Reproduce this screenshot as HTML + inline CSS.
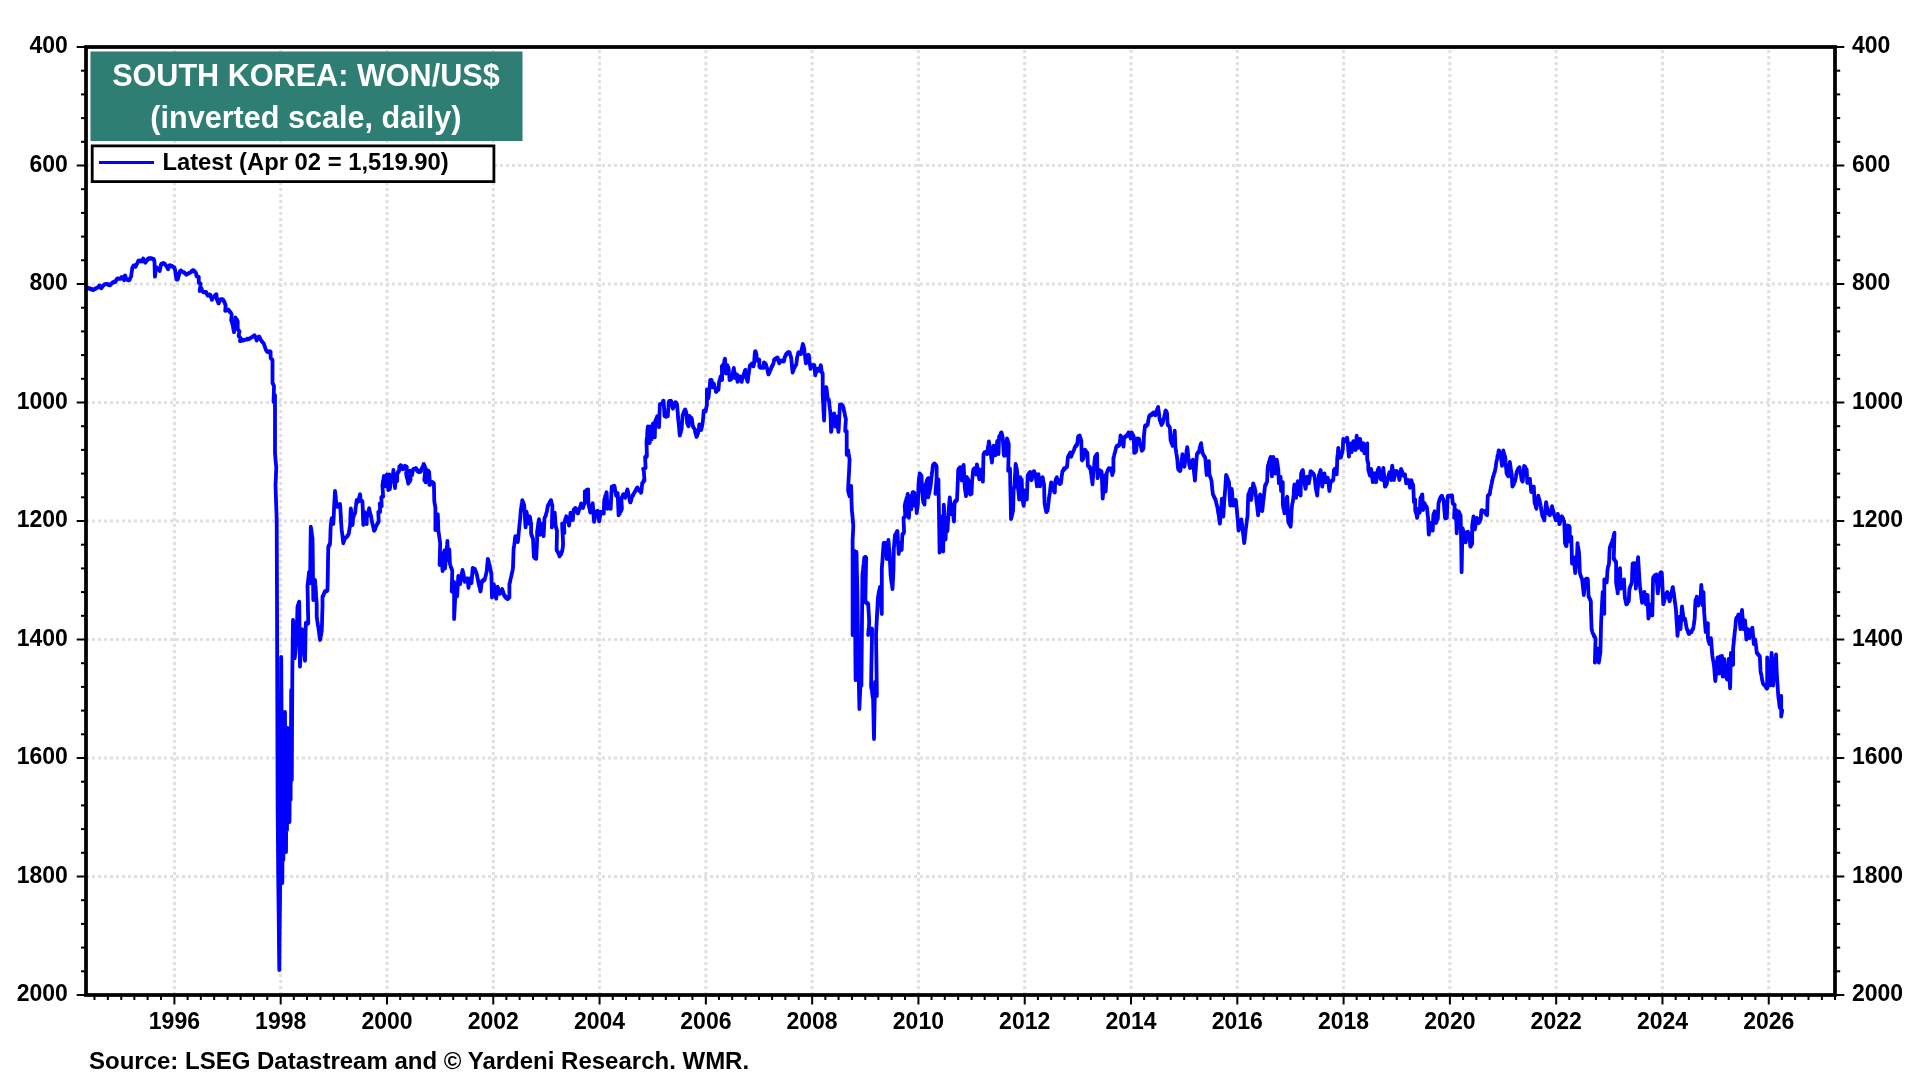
<!DOCTYPE html>
<html><head><meta charset="utf-8"><style>
html,body{margin:0;padding:0;background:#fff;width:1920px;height:1080px;overflow:hidden}
svg{display:block;will-change:transform}
text{font-family:"Liberation Sans",sans-serif;font-weight:bold}
</style></head><body>
<svg width="1920" height="1080" viewBox="0 0 1920 1080">
<g stroke="#e0e0e0" stroke-width="3" stroke-dasharray="3 3"><line x1="86" y1="165.50" x2="1833" y2="165.50"/><line x1="86" y1="284.00" x2="1833" y2="284.00"/><line x1="86" y1="402.50" x2="1833" y2="402.50"/><line x1="86" y1="521.00" x2="1833" y2="521.00"/><line x1="86" y1="639.50" x2="1833" y2="639.50"/><line x1="86" y1="758.00" x2="1833" y2="758.00"/><line x1="86" y1="876.50" x2="1833" y2="876.50"/><line x1="174.40" y1="50" x2="174.40" y2="993"/><line x1="280.69" y1="50" x2="280.69" y2="993"/><line x1="386.98" y1="50" x2="386.98" y2="993"/><line x1="493.27" y1="50" x2="493.27" y2="993"/><line x1="599.56" y1="50" x2="599.56" y2="993"/><line x1="705.85" y1="50" x2="705.85" y2="993"/><line x1="812.14" y1="50" x2="812.14" y2="993"/><line x1="918.43" y1="50" x2="918.43" y2="993"/><line x1="1024.72" y1="50" x2="1024.72" y2="993"/><line x1="1131.01" y1="50" x2="1131.01" y2="993"/><line x1="1237.30" y1="50" x2="1237.30" y2="993"/><line x1="1343.59" y1="50" x2="1343.59" y2="993"/><line x1="1449.88" y1="50" x2="1449.88" y2="993"/><line x1="1556.17" y1="50" x2="1556.17" y2="993"/><line x1="1662.46" y1="50" x2="1662.46" y2="993"/><line x1="1768.75" y1="50" x2="1768.75" y2="993"/></g>
<g stroke="#000" stroke-width="2"><line x1="76.7" y1="47.00" x2="86" y2="47.00"/><line x1="1835" y1="47.00" x2="1844.3" y2="47.00"/><line x1="81.0" y1="70.70" x2="86" y2="70.70"/><line x1="1835" y1="70.70" x2="1840.2" y2="70.70"/><line x1="81.0" y1="94.40" x2="86" y2="94.40"/><line x1="1835" y1="94.40" x2="1840.2" y2="94.40"/><line x1="81.0" y1="118.10" x2="86" y2="118.10"/><line x1="1835" y1="118.10" x2="1840.2" y2="118.10"/><line x1="81.0" y1="141.80" x2="86" y2="141.80"/><line x1="1835" y1="141.80" x2="1840.2" y2="141.80"/><line x1="76.7" y1="165.50" x2="86" y2="165.50"/><line x1="1835" y1="165.50" x2="1844.3" y2="165.50"/><line x1="81.0" y1="189.20" x2="86" y2="189.20"/><line x1="1835" y1="189.20" x2="1840.2" y2="189.20"/><line x1="81.0" y1="212.90" x2="86" y2="212.90"/><line x1="1835" y1="212.90" x2="1840.2" y2="212.90"/><line x1="81.0" y1="236.60" x2="86" y2="236.60"/><line x1="1835" y1="236.60" x2="1840.2" y2="236.60"/><line x1="81.0" y1="260.30" x2="86" y2="260.30"/><line x1="1835" y1="260.30" x2="1840.2" y2="260.30"/><line x1="76.7" y1="284.00" x2="86" y2="284.00"/><line x1="1835" y1="284.00" x2="1844.3" y2="284.00"/><line x1="81.0" y1="307.70" x2="86" y2="307.70"/><line x1="1835" y1="307.70" x2="1840.2" y2="307.70"/><line x1="81.0" y1="331.40" x2="86" y2="331.40"/><line x1="1835" y1="331.40" x2="1840.2" y2="331.40"/><line x1="81.0" y1="355.10" x2="86" y2="355.10"/><line x1="1835" y1="355.10" x2="1840.2" y2="355.10"/><line x1="81.0" y1="378.80" x2="86" y2="378.80"/><line x1="1835" y1="378.80" x2="1840.2" y2="378.80"/><line x1="76.7" y1="402.50" x2="86" y2="402.50"/><line x1="1835" y1="402.50" x2="1844.3" y2="402.50"/><line x1="81.0" y1="426.20" x2="86" y2="426.20"/><line x1="1835" y1="426.20" x2="1840.2" y2="426.20"/><line x1="81.0" y1="449.90" x2="86" y2="449.90"/><line x1="1835" y1="449.90" x2="1840.2" y2="449.90"/><line x1="81.0" y1="473.60" x2="86" y2="473.60"/><line x1="1835" y1="473.60" x2="1840.2" y2="473.60"/><line x1="81.0" y1="497.30" x2="86" y2="497.30"/><line x1="1835" y1="497.30" x2="1840.2" y2="497.30"/><line x1="76.7" y1="521.00" x2="86" y2="521.00"/><line x1="1835" y1="521.00" x2="1844.3" y2="521.00"/><line x1="81.0" y1="544.70" x2="86" y2="544.70"/><line x1="1835" y1="544.70" x2="1840.2" y2="544.70"/><line x1="81.0" y1="568.40" x2="86" y2="568.40"/><line x1="1835" y1="568.40" x2="1840.2" y2="568.40"/><line x1="81.0" y1="592.10" x2="86" y2="592.10"/><line x1="1835" y1="592.10" x2="1840.2" y2="592.10"/><line x1="81.0" y1="615.80" x2="86" y2="615.80"/><line x1="1835" y1="615.80" x2="1840.2" y2="615.80"/><line x1="76.7" y1="639.50" x2="86" y2="639.50"/><line x1="1835" y1="639.50" x2="1844.3" y2="639.50"/><line x1="81.0" y1="663.20" x2="86" y2="663.20"/><line x1="1835" y1="663.20" x2="1840.2" y2="663.20"/><line x1="81.0" y1="686.90" x2="86" y2="686.90"/><line x1="1835" y1="686.90" x2="1840.2" y2="686.90"/><line x1="81.0" y1="710.60" x2="86" y2="710.60"/><line x1="1835" y1="710.60" x2="1840.2" y2="710.60"/><line x1="81.0" y1="734.30" x2="86" y2="734.30"/><line x1="1835" y1="734.30" x2="1840.2" y2="734.30"/><line x1="76.7" y1="758.00" x2="86" y2="758.00"/><line x1="1835" y1="758.00" x2="1844.3" y2="758.00"/><line x1="81.0" y1="781.70" x2="86" y2="781.70"/><line x1="1835" y1="781.70" x2="1840.2" y2="781.70"/><line x1="81.0" y1="805.40" x2="86" y2="805.40"/><line x1="1835" y1="805.40" x2="1840.2" y2="805.40"/><line x1="81.0" y1="829.10" x2="86" y2="829.10"/><line x1="1835" y1="829.10" x2="1840.2" y2="829.10"/><line x1="81.0" y1="852.80" x2="86" y2="852.80"/><line x1="1835" y1="852.80" x2="1840.2" y2="852.80"/><line x1="76.7" y1="876.50" x2="86" y2="876.50"/><line x1="1835" y1="876.50" x2="1844.3" y2="876.50"/><line x1="81.0" y1="900.20" x2="86" y2="900.20"/><line x1="1835" y1="900.20" x2="1840.2" y2="900.20"/><line x1="81.0" y1="923.90" x2="86" y2="923.90"/><line x1="1835" y1="923.90" x2="1840.2" y2="923.90"/><line x1="81.0" y1="947.60" x2="86" y2="947.60"/><line x1="1835" y1="947.60" x2="1840.2" y2="947.60"/><line x1="81.0" y1="971.30" x2="86" y2="971.30"/><line x1="1835" y1="971.30" x2="1840.2" y2="971.30"/><line x1="76.7" y1="995.00" x2="86" y2="995.00"/><line x1="1835" y1="995.00" x2="1844.3" y2="995.00"/><line x1="94.46" y1="995" x2="94.46" y2="1000.0"/><line x1="107.86" y1="995" x2="107.86" y2="1000.0"/><line x1="121.25" y1="995" x2="121.25" y2="1000.0"/><line x1="134.36" y1="995" x2="134.36" y2="1000.0"/><line x1="147.61" y1="995" x2="147.61" y2="1000.0"/><line x1="161.00" y1="995" x2="161.00" y2="1000.0"/><line x1="174.40" y1="995" x2="174.40" y2="1004.5"/><line x1="187.61" y1="995" x2="187.61" y2="1000.0"/><line x1="200.83" y1="995" x2="200.83" y2="1000.0"/><line x1="214.19" y1="995" x2="214.19" y2="1000.0"/><line x1="227.55" y1="995" x2="227.55" y2="1000.0"/><line x1="240.65" y1="995" x2="240.65" y2="1000.0"/><line x1="253.90" y1="995" x2="253.90" y2="1000.0"/><line x1="267.29" y1="995" x2="267.29" y2="1000.0"/><line x1="280.69" y1="995" x2="280.69" y2="1004.5"/><line x1="293.79" y1="995" x2="293.79" y2="1000.0"/><line x1="307.04" y1="995" x2="307.04" y2="1000.0"/><line x1="320.44" y1="995" x2="320.44" y2="1000.0"/><line x1="333.84" y1="995" x2="333.84" y2="1000.0"/><line x1="346.94" y1="995" x2="346.94" y2="1000.0"/><line x1="360.19" y1="995" x2="360.19" y2="1000.0"/><line x1="373.58" y1="995" x2="373.58" y2="1000.0"/><line x1="386.98" y1="995" x2="386.98" y2="1004.5"/><line x1="400.19" y1="995" x2="400.19" y2="1000.0"/><line x1="413.41" y1="995" x2="413.41" y2="1000.0"/><line x1="426.77" y1="995" x2="426.77" y2="1000.0"/><line x1="440.12" y1="995" x2="440.12" y2="1000.0"/><line x1="453.23" y1="995" x2="453.23" y2="1000.0"/><line x1="466.48" y1="995" x2="466.48" y2="1000.0"/><line x1="479.87" y1="995" x2="479.87" y2="1000.0"/><line x1="493.27" y1="995" x2="493.27" y2="1004.5"/><line x1="506.37" y1="995" x2="506.37" y2="1000.0"/><line x1="519.62" y1="995" x2="519.62" y2="1000.0"/><line x1="533.02" y1="995" x2="533.02" y2="1000.0"/><line x1="546.42" y1="995" x2="546.42" y2="1000.0"/><line x1="559.52" y1="995" x2="559.52" y2="1000.0"/><line x1="572.77" y1="995" x2="572.77" y2="1000.0"/><line x1="586.16" y1="995" x2="586.16" y2="1000.0"/><line x1="599.56" y1="995" x2="599.56" y2="1004.5"/><line x1="612.77" y1="995" x2="612.77" y2="1000.0"/><line x1="625.99" y1="995" x2="625.99" y2="1000.0"/><line x1="639.35" y1="995" x2="639.35" y2="1000.0"/><line x1="652.71" y1="995" x2="652.71" y2="1000.0"/><line x1="665.81" y1="995" x2="665.81" y2="1000.0"/><line x1="679.06" y1="995" x2="679.06" y2="1000.0"/><line x1="692.45" y1="995" x2="692.45" y2="1000.0"/><line x1="705.85" y1="995" x2="705.85" y2="1004.5"/><line x1="718.95" y1="995" x2="718.95" y2="1000.0"/><line x1="732.20" y1="995" x2="732.20" y2="1000.0"/><line x1="745.60" y1="995" x2="745.60" y2="1000.0"/><line x1="759.00" y1="995" x2="759.00" y2="1000.0"/><line x1="772.10" y1="995" x2="772.10" y2="1000.0"/><line x1="785.35" y1="995" x2="785.35" y2="1000.0"/><line x1="798.74" y1="995" x2="798.74" y2="1000.0"/><line x1="812.14" y1="995" x2="812.14" y2="1004.5"/><line x1="825.35" y1="995" x2="825.35" y2="1000.0"/><line x1="838.57" y1="995" x2="838.57" y2="1000.0"/><line x1="851.93" y1="995" x2="851.93" y2="1000.0"/><line x1="865.28" y1="995" x2="865.28" y2="1000.0"/><line x1="878.39" y1="995" x2="878.39" y2="1000.0"/><line x1="891.64" y1="995" x2="891.64" y2="1000.0"/><line x1="905.03" y1="995" x2="905.03" y2="1000.0"/><line x1="918.43" y1="995" x2="918.43" y2="1004.5"/><line x1="931.53" y1="995" x2="931.53" y2="1000.0"/><line x1="944.78" y1="995" x2="944.78" y2="1000.0"/><line x1="958.18" y1="995" x2="958.18" y2="1000.0"/><line x1="971.58" y1="995" x2="971.58" y2="1000.0"/><line x1="984.68" y1="995" x2="984.68" y2="1000.0"/><line x1="997.93" y1="995" x2="997.93" y2="1000.0"/><line x1="1011.32" y1="995" x2="1011.32" y2="1000.0"/><line x1="1024.72" y1="995" x2="1024.72" y2="1004.5"/><line x1="1037.93" y1="995" x2="1037.93" y2="1000.0"/><line x1="1051.15" y1="995" x2="1051.15" y2="1000.0"/><line x1="1064.51" y1="995" x2="1064.51" y2="1000.0"/><line x1="1077.87" y1="995" x2="1077.87" y2="1000.0"/><line x1="1090.97" y1="995" x2="1090.97" y2="1000.0"/><line x1="1104.22" y1="995" x2="1104.22" y2="1000.0"/><line x1="1117.61" y1="995" x2="1117.61" y2="1000.0"/><line x1="1131.01" y1="995" x2="1131.01" y2="1004.5"/><line x1="1144.11" y1="995" x2="1144.11" y2="1000.0"/><line x1="1157.36" y1="995" x2="1157.36" y2="1000.0"/><line x1="1170.76" y1="995" x2="1170.76" y2="1000.0"/><line x1="1184.16" y1="995" x2="1184.16" y2="1000.0"/><line x1="1197.26" y1="995" x2="1197.26" y2="1000.0"/><line x1="1210.51" y1="995" x2="1210.51" y2="1000.0"/><line x1="1223.90" y1="995" x2="1223.90" y2="1000.0"/><line x1="1237.30" y1="995" x2="1237.30" y2="1004.5"/><line x1="1250.51" y1="995" x2="1250.51" y2="1000.0"/><line x1="1263.73" y1="995" x2="1263.73" y2="1000.0"/><line x1="1277.09" y1="995" x2="1277.09" y2="1000.0"/><line x1="1290.45" y1="995" x2="1290.45" y2="1000.0"/><line x1="1303.55" y1="995" x2="1303.55" y2="1000.0"/><line x1="1316.80" y1="995" x2="1316.80" y2="1000.0"/><line x1="1330.19" y1="995" x2="1330.19" y2="1000.0"/><line x1="1343.59" y1="995" x2="1343.59" y2="1004.5"/><line x1="1356.69" y1="995" x2="1356.69" y2="1000.0"/><line x1="1369.94" y1="995" x2="1369.94" y2="1000.0"/><line x1="1383.34" y1="995" x2="1383.34" y2="1000.0"/><line x1="1396.74" y1="995" x2="1396.74" y2="1000.0"/><line x1="1409.84" y1="995" x2="1409.84" y2="1000.0"/><line x1="1423.09" y1="995" x2="1423.09" y2="1000.0"/><line x1="1436.48" y1="995" x2="1436.48" y2="1000.0"/><line x1="1449.88" y1="995" x2="1449.88" y2="1004.5"/><line x1="1463.09" y1="995" x2="1463.09" y2="1000.0"/><line x1="1476.31" y1="995" x2="1476.31" y2="1000.0"/><line x1="1489.67" y1="995" x2="1489.67" y2="1000.0"/><line x1="1503.03" y1="995" x2="1503.03" y2="1000.0"/><line x1="1516.13" y1="995" x2="1516.13" y2="1000.0"/><line x1="1529.38" y1="995" x2="1529.38" y2="1000.0"/><line x1="1542.77" y1="995" x2="1542.77" y2="1000.0"/><line x1="1556.17" y1="995" x2="1556.17" y2="1004.5"/><line x1="1569.27" y1="995" x2="1569.27" y2="1000.0"/><line x1="1582.52" y1="995" x2="1582.52" y2="1000.0"/><line x1="1595.92" y1="995" x2="1595.92" y2="1000.0"/><line x1="1609.32" y1="995" x2="1609.32" y2="1000.0"/><line x1="1622.42" y1="995" x2="1622.42" y2="1000.0"/><line x1="1635.67" y1="995" x2="1635.67" y2="1000.0"/><line x1="1649.06" y1="995" x2="1649.06" y2="1000.0"/><line x1="1662.46" y1="995" x2="1662.46" y2="1004.5"/><line x1="1675.67" y1="995" x2="1675.67" y2="1000.0"/><line x1="1688.89" y1="995" x2="1688.89" y2="1000.0"/><line x1="1702.25" y1="995" x2="1702.25" y2="1000.0"/><line x1="1715.61" y1="995" x2="1715.61" y2="1000.0"/><line x1="1728.71" y1="995" x2="1728.71" y2="1000.0"/><line x1="1741.96" y1="995" x2="1741.96" y2="1000.0"/><line x1="1755.35" y1="995" x2="1755.35" y2="1000.0"/><line x1="1768.75" y1="995" x2="1768.75" y2="1004.5"/><line x1="1781.85" y1="995" x2="1781.85" y2="1000.0"/><line x1="1795.10" y1="995" x2="1795.10" y2="1000.0"/><line x1="1808.50" y1="995" x2="1808.50" y2="1000.0"/><line x1="1821.90" y1="995" x2="1821.90" y2="1000.0"/><line x1="1835.00" y1="995" x2="1835.00" y2="1000.0"/></g>
<polyline fill="none" stroke="#0000ff" stroke-width="3.8" stroke-linejoin="round" stroke-linecap="round" points="87.8,288.0 88.1,287.8 88.4,288.0 88.7,288.6 89.0,288.6 89.3,288.4 89.6,288.4 89.9,288.8 90.2,288.5 90.5,289.1 90.9,289.4 91.2,288.8 91.5,289.6 91.8,289.5 92.1,289.0 92.4,289.4 92.7,290.0 93.0,289.9 93.3,289.6 93.6,289.9 93.9,289.4 94.2,289.1 94.5,289.0 94.8,289.0 95.1,289.0 95.3,288.6 95.6,289.0 95.9,288.2 96.2,288.0 96.5,287.8 96.8,288.0 97.1,288.1 97.4,287.5 97.7,287.6 98.0,287.1 98.2,286.9 98.5,286.7 98.8,286.0 99.1,286.1 99.4,285.4 99.7,285.6 100.0,286.2 100.3,286.8 100.5,286.9 100.8,287.9 101.1,287.6 101.4,288.3 101.7,287.7 102.0,287.4 102.3,286.6 102.6,286.8 102.8,286.1 103.1,285.5 103.4,285.6 103.7,284.8 104.0,284.7 104.3,284.6 104.6,284.2 104.9,284.2 105.2,284.4 105.5,284.4 105.7,284.1 106.0,284.1 106.3,284.0 106.6,283.9 106.9,284.0 107.2,284.0 107.5,284.2 107.8,284.1 108.1,284.8 108.4,284.3 108.6,285.1 108.9,284.6 109.2,285.3 109.5,285.4 109.8,285.4 110.1,285.4 110.4,284.6 110.7,284.1 111.0,284.4 111.2,284.0 111.5,283.8 111.8,283.1 112.1,282.8 112.4,282.8 112.7,282.3 113.0,282.9 113.3,282.4 113.6,282.4 113.9,282.0 114.1,281.8 114.4,281.5 114.7,281.6 115.0,282.1 115.3,282.1 115.6,281.5 115.9,280.9 116.2,280.3 116.4,280.5 116.7,279.1 117.0,279.0 117.3,278.6 117.6,278.4 117.9,278.9 118.2,278.4 118.5,278.8 118.8,278.6 119.0,278.8 119.3,278.6 119.6,278.6 119.9,278.7 120.2,278.9 120.5,278.6 120.8,278.7 121.2,278.4 121.5,277.2 121.8,277.7 122.1,277.0 122.4,277.7 122.7,278.3 123.0,278.0 123.2,278.7 123.5,279.2 123.8,279.6 124.1,280.2 124.4,278.1 124.7,276.9 125.0,275.3 125.3,275.6 125.6,276.7 125.8,277.4 126.1,278.4 126.4,279.3 126.7,279.5 127.0,279.4 127.3,279.8 127.6,279.6 127.9,280.1 128.1,280.1 128.4,280.4 128.7,280.4 129.0,279.7 129.3,280.2 129.6,279.9 129.9,279.0 130.2,278.1 130.6,277.2 130.9,277.2 131.2,276.3 131.5,273.1 131.9,271.2 132.2,267.9 132.5,267.7 132.8,266.8 133.2,266.0 133.5,265.9 133.8,265.3 134.1,265.2 134.4,265.4 134.8,265.7 135.1,266.6 135.4,266.9 135.7,266.6 136.0,266.2 136.3,265.5 136.6,264.7 136.9,263.7 137.1,263.7 137.4,263.0 137.7,262.2 138.0,261.8 138.3,260.7 138.6,260.8 138.9,261.1 139.2,261.0 139.5,260.5 139.8,260.8 140.1,260.6 140.4,261.5 140.7,260.7 141.0,261.2 141.3,260.9 141.6,260.9 141.9,261.0 142.2,261.4 142.5,260.4 142.9,259.3 143.2,258.5 143.5,259.1 143.8,259.4 144.1,259.9 144.3,260.8 144.6,260.7 144.9,261.9 145.2,262.6 145.5,262.7 145.8,262.1 146.1,261.4 146.4,261.2 146.8,261.0 147.1,260.2 147.4,259.9 147.7,258.8 148.0,258.8 148.3,258.5 148.6,259.2 148.9,258.3 149.2,258.4 149.5,258.2 149.8,258.8 150.1,258.8 150.4,258.4 150.7,258.1 151.0,258.5 151.3,258.5 151.6,258.5 151.9,258.6 152.2,258.5 152.5,259.2 152.7,259.2 153.0,259.1 153.3,259.1 153.6,258.9 153.9,259.4 154.2,260.7 154.5,262.0 154.9,276.6 155.2,274.7 155.5,272.2 155.8,269.9 156.1,267.2 156.4,267.2 156.7,267.5 157.0,267.7 157.2,268.2 157.5,267.7 157.8,268.3 158.1,268.7 158.4,268.5 158.7,268.9 159.1,270.1 159.4,270.6 159.7,271.1 160.0,269.5 160.3,268.1 160.7,266.3 161.0,264.3 161.3,263.9 161.6,263.8 161.9,264.4 162.2,263.8 162.5,264.0 162.8,263.7 163.1,263.6 163.4,263.1 163.7,263.8 164.0,263.2 164.3,263.3 164.6,263.3 164.9,264.2 165.2,264.7 165.6,264.9 165.9,265.2 166.2,265.9 166.5,266.0 166.8,266.7 167.1,267.5 167.5,267.8 167.8,268.9 168.1,269.2 168.4,267.9 168.8,267.9 169.1,266.5 169.4,265.6 169.7,265.2 170.0,266.0 170.3,265.4 170.6,265.4 170.8,265.5 171.1,265.7 171.4,265.8 171.7,265.8 172.0,265.9 172.3,266.2 172.6,266.6 172.9,267.0 173.2,266.8 173.4,267.4 173.7,267.7 174.0,267.2 174.3,267.2 174.6,267.9 174.9,269.8 175.2,271.0 175.5,272.5 175.7,275.0 176.0,276.4 176.3,278.3 176.6,279.5 176.9,279.0 177.2,278.8 177.6,279.5 177.9,278.9 178.2,277.9 178.5,276.0 178.9,275.4 179.2,273.3 179.5,272.3 179.8,271.1 180.1,271.4 180.4,271.2 180.8,270.5 181.1,270.5 181.4,270.9 181.7,271.1 182.0,271.6 182.3,271.6 182.6,271.7 182.9,272.3 183.2,271.9 183.5,272.2 183.9,272.4 184.2,272.8 184.5,272.6 184.8,273.2 185.1,273.3 185.4,273.5 185.7,273.7 186.0,274.5 186.3,274.4 186.6,274.7 186.9,274.1 187.2,274.2 187.5,273.7 187.8,274.1 188.1,273.3 188.4,273.3 188.7,273.1 189.0,272.9 189.3,273.3 189.6,272.9 189.9,272.5 190.2,272.7 190.5,272.4 190.8,272.2 191.1,272.2 191.4,271.3 191.7,271.4 192.0,270.8 192.3,271.4 192.6,270.9 192.9,270.1 193.2,270.2 193.5,270.2 193.8,270.7 194.1,270.7 194.4,271.3 194.8,272.0 195.1,271.7 195.4,272.7 195.7,272.6 196.0,273.0 196.2,274.3 196.5,276.2 196.8,276.5 197.1,276.0 197.4,276.5 197.7,276.2 197.9,277.0 198.2,276.7 198.5,277.3 198.8,277.1 198.8,282.7 199.1,282.5 199.4,283.3 199.7,283.0 200.0,283.2 200.3,283.6 200.6,283.6 200.3,286.2 200.0,288.3 199.7,291.0 200.0,290.0 200.3,289.5 200.5,288.6 200.8,288.0 201.1,287.8 201.4,288.2 201.7,289.0 202.1,290.4 202.4,290.6 202.7,291.5 203.0,292.0 203.3,292.2 203.6,291.7 203.9,291.8 204.2,292.4 204.5,292.2 204.7,292.0 205.0,292.0 205.3,292.2 205.6,291.9 205.9,291.9 206.2,292.0 206.5,292.8 206.8,293.4 207.0,294.3 207.3,294.5 207.6,295.6 207.9,295.2 208.2,295.7 208.5,295.4 208.8,295.6 209.2,295.0 209.5,295.2 209.8,294.5 210.1,294.6 210.4,294.7 210.7,295.9 211.0,296.4 211.2,297.8 211.5,298.5 211.8,299.8 212.1,299.7 212.4,298.7 212.7,298.2 212.9,298.1 213.2,297.5 213.5,297.6 213.8,297.1 214.1,296.6 214.4,296.7 214.7,295.8 215.0,296.1 215.2,295.2 215.5,295.5 215.8,294.5 216.1,295.0 216.4,294.3 216.7,297.0 216.9,299.8 217.2,300.3 217.5,300.7 217.8,301.8 218.1,302.1 218.4,303.3 218.7,303.5 219.0,302.6 219.3,301.9 219.5,301.3 219.8,300.4 220.1,299.4 220.4,299.6 220.7,299.6 221.0,299.3 221.3,299.3 221.7,299.3 222.0,299.7 222.3,299.0 222.6,299.7 222.9,299.4 223.2,299.8 223.5,300.9 223.8,301.5 224.1,302.0 224.4,301.7 224.7,302.6 225.0,304.0 225.3,304.0 225.6,305.4 225.2,310.9 225.5,310.7 225.8,310.4 226.1,310.5 226.4,310.3 226.8,310.5 227.1,309.7 227.4,310.1 227.7,309.6 228.0,309.5 228.3,310.2 228.6,309.8 228.9,310.5 229.2,310.7 229.5,311.3 229.8,312.2 230.1,312.1 230.4,312.0 230.7,312.8 231.0,313.1 231.4,314.0 231.7,314.6 231.4,317.8 231.2,320.2 231.5,321.3 231.8,321.6 232.0,322.5 232.3,323.8 232.6,324.8 232.9,326.1 233.2,328.0 233.4,329.1 233.7,330.5 234.0,332.2 234.3,329.4 234.6,326.8 234.8,323.0 235.1,320.0 235.4,317.4 235.7,317.8 236.0,319.1 236.3,319.3 236.6,319.8 236.9,319.5 237.1,320.4 237.4,321.1 237.7,321.1 237.7,329.4 238.0,329.6 238.3,329.7 238.6,330.8 238.9,330.6 239.2,330.9 239.5,331.3 239.2,332.9 238.9,333.9 238.6,335.9 238.9,336.5 239.2,336.7 239.6,336.7 239.9,337.3 240.2,337.7 240.5,337.8 240.2,339.3 240.0,341.0 240.3,340.6 240.6,340.9 240.9,341.0 241.2,340.8 241.5,340.4 241.8,340.7 242.1,340.4 242.4,340.4 242.7,339.8 242.9,340.5 243.2,340.6 243.5,339.9 243.8,339.9 244.1,340.0 244.4,339.8 244.7,339.7 245.0,340.0 245.3,339.8 245.6,339.6 245.9,339.7 246.2,339.6 246.5,339.3 246.8,339.1 247.1,339.6 247.4,338.7 247.8,339.3 248.1,339.3 248.4,338.6 248.7,338.9 249.0,339.3 249.3,338.7 249.6,338.6 249.9,338.3 250.2,338.1 250.5,338.2 250.8,337.9 251.1,337.4 251.4,337.7 251.7,337.3 252.1,336.9 252.4,337.0 252.7,337.0 253.0,336.1 253.3,336.1 253.6,336.1 253.9,335.8 254.2,335.9 254.5,335.2 254.8,335.5 255.1,336.6 255.4,337.1 255.8,337.7 256.1,338.5 256.4,340.0 256.7,340.6 257.0,340.0 257.3,339.4 257.6,338.6 257.9,338.8 258.1,337.7 258.4,337.2 258.7,336.7 259.0,336.4 259.3,336.7 259.6,337.1 259.9,338.3 260.1,338.2 260.4,338.7 260.7,339.8 261.0,340.0 261.3,340.6 261.6,341.4 261.9,341.5 262.2,341.5 262.5,342.1 262.9,342.8 263.2,342.9 263.5,343.5 263.8,343.5 264.1,344.3 264.4,345.7 264.7,346.3 264.9,346.8 265.2,347.6 265.5,348.9 265.8,349.5 266.1,350.3 266.3,350.1 266.6,350.8 266.9,351.7 267.2,351.8 267.5,351.9 267.8,352.1 268.1,352.0 268.4,351.8 268.8,352.2 269.1,351.5 269.4,351.4 269.7,351.5 270.0,351.8 270.3,351.3 270.6,351.7 270.6,358.1 270.9,358.3 271.2,358.4 271.6,359.4 271.9,359.7 272.2,359.4 272.5,360.0 272.5,383.0 272.8,383.7 273.1,383.9 273.4,384.9 273.7,385.3 274.0,386.0 273.8,393.8 273.5,402.0 273.8,400.2 274.1,399.1 274.4,398.2 274.7,396.0 275.0,395.0 275.0,453.0 275.3,456.7 275.6,460.6 276.0,464.6 276.3,468.0 276.0,473.6 275.8,479.8 275.5,485.0 275.8,493.5 276.1,502.6 276.4,511.3 276.7,520.0 277.0,600.0 277.3,700.0 277.6,800.0 278.0,850.0 278.2,874.8 278.5,900.0 278.8,923.4 279.0,946.2 279.3,970.0 279.6,934.5 280.0,900.0 280.2,875.1 280.5,850.0 281.0,760.0 281.2,657.0 281.8,750.0 282.3,883.0 282.8,800.0 283.1,830.1 283.3,860.0 283.8,770.0 284.1,809.6 284.3,850.0 285.0,712.0 285.2,750.8 285.5,790.0 285.8,820.9 286.0,852.0 286.5,770.0 286.8,800.0 287.0,830.0 287.5,728.0 288.0,812.0 288.4,800.8 288.7,790.0 289.0,800.9 289.2,811.5 289.5,822.0 290.0,740.0 290.3,769.8 290.6,800.0 291.2,690.0 291.8,780.0 292.3,676.0 292.6,648.5 293.0,620.0 293.3,621.1 293.6,622.6 293.9,624.2 294.1,625.3 294.4,627.1 294.7,629.0 295.0,630.0 294.7,658.3 295.0,655.5 295.3,653.0 295.6,649.9 295.8,646.5 296.1,644.2 296.4,641.2 296.7,638.3 297.0,627.5 297.2,617.5 297.5,606.7 297.8,606.3 298.1,604.7 298.4,604.2 298.6,603.7 298.9,602.2 299.2,601.7 299.5,623.8 299.7,645.3 300.0,666.7 300.3,661.1 300.6,656.4 300.9,650.2 301.1,645.1 301.4,639.5 301.7,634.5 302.0,629.2 302.3,631.5 302.6,633.3 303.0,636.2 303.3,638.3 303.6,641.7 303.9,645.5 304.1,649.1 304.4,653.2 304.7,656.3 305.0,660.8 305.3,647.6 305.5,635.4 305.8,623.3 306.1,622.6 306.4,623.0 306.7,623.1 307.1,623.8 307.4,622.7 307.7,624.0 308.0,623.7 308.3,623.3 308.0,611.0 307.8,597.9 307.5,585.0 307.8,583.4 308.1,580.7 308.4,577.8 308.6,576.9 308.9,573.4 309.2,571.7 309.5,575.7 309.7,579.8 310.0,583.3 310.3,564.3 310.5,545.5 310.8,526.7 311.1,528.6 311.4,530.5 311.6,531.7 311.9,535.1 312.2,536.5 312.5,538.3 312.8,559.1 313.0,580.2 313.3,600.0 313.6,596.4 313.9,593.7 314.1,589.5 314.4,586.8 314.7,583.7 315.0,580.0 315.3,584.4 315.6,587.2 315.9,592.2 316.1,596.2 316.4,600.0 316.7,603.3 316.7,616.7 317.0,618.2 317.3,621.0 317.6,622.5 317.9,625.3 318.3,626.8 318.6,629.5 318.9,631.0 319.2,633.3 319.5,636.2 319.7,637.6 320.0,640.0 320.3,639.4 320.6,636.7 320.9,635.5 321.1,634.9 321.4,632.3 321.7,631.7 322.0,623.4 322.2,615.3 322.5,606.7 322.5,596.7 322.8,595.8 323.1,596.2 323.4,595.5 323.8,594.4 324.1,593.3 324.4,592.3 324.7,591.6 325.0,591.7 325.3,591.9 325.6,590.9 325.9,590.7 326.2,590.9 326.6,591.1 326.9,591.2 327.2,590.9 327.5,590.0 327.8,575.8 328.0,560.9 328.3,546.7 328.6,546.5 328.9,545.3 329.1,546.1 329.4,544.5 329.7,544.9 330.0,544.2 330.3,538.1 330.5,530.9 330.8,525.0 331.1,523.3 331.4,519.8 331.7,518.3 332.0,518.8 332.3,520.2 332.7,521.5 333.0,523.6 333.3,524.0 333.6,518.8 333.9,512.6 334.1,507.1 334.4,501.8 334.7,496.7 335.0,491.0 335.3,493.5 335.6,495.7 335.9,499.4 336.1,501.6 336.4,504.2 336.7,506.7 337.0,506.0 337.3,506.9 337.6,506.4 337.9,506.2 338.2,505.9 338.5,504.8 338.8,505.2 339.1,504.3 339.4,504.5 339.7,504.9 340.0,504.0 340.3,507.6 340.6,513.1 340.9,517.8 341.1,521.8 341.4,525.9 341.7,530.0 342.0,532.3 342.3,534.6 342.7,537.8 343.0,540.9 343.3,543.3 343.6,542.3 343.9,541.4 344.1,540.3 344.4,539.2 344.7,539.4 345.0,538.3 345.3,538.1 345.6,538.0 345.9,537.2 346.2,537.7 346.5,536.8 346.8,536.6 347.1,536.7 347.4,535.6 347.7,536.0 348.0,534.9 348.3,535.0 348.6,533.8 348.9,533.0 349.1,530.8 349.4,529.8 349.7,527.4 350.0,526.7 350.3,520.6 350.5,514.0 350.8,508.3 351.1,510.6 351.4,513.9 351.6,516.9 351.9,518.8 352.2,522.3 352.5,525.0 352.8,522.9 353.0,519.0 353.3,516.7 353.6,516.8 353.9,515.5 354.1,514.2 354.4,514.2 354.7,514.0 355.0,513.3 355.3,511.8 355.6,508.2 355.9,506.0 356.1,504.2 356.4,502.1 356.7,500.0 357.0,499.8 357.3,499.9 357.7,501.3 358.0,501.3 358.3,501.7 358.6,501.1 358.9,498.5 359.1,497.9 359.4,496.5 359.7,496.2 360.0,494.2 360.3,495.9 360.5,499.2 360.8,500.8 361.1,500.4 361.4,500.5 361.6,501.4 361.9,500.7 362.2,501.3 362.5,501.7 362.8,509.8 363.0,517.5 363.3,525.0 363.6,519.8 363.9,516.4 364.2,511.7 364.5,513.3 364.8,514.2 365.1,515.8 365.4,517.4 365.8,519.9 366.1,520.6 366.4,522.2 366.7,524.2 366.7,518.3 367.0,516.8 367.3,516.3 367.6,514.6 367.9,513.4 368.3,511.8 368.6,510.8 368.9,509.4 369.2,508.3 369.5,510.4 369.8,511.4 370.1,512.8 370.4,514.4 370.8,514.8 371.1,516.6 371.4,518.4 371.7,520.0 372.0,521.7 372.3,523.4 372.6,524.1 372.9,526.0 373.3,526.7 373.6,528.8 373.9,530.2 374.2,530.8 374.5,530.0 374.8,529.7 375.1,529.3 375.4,527.8 375.8,527.5 376.1,525.7 376.4,525.9 376.7,525.0 377.0,524.9 377.3,523.5 377.6,523.4 377.8,522.7 378.1,522.9 378.4,522.2 378.7,521.0 378.3,512.0 378.6,512.6 378.9,512.3 379.2,511.1 379.6,512.1 379.9,512.3 380.2,511.5 379.8,503.3 380.1,503.9 380.4,503.7 380.8,504.6 381.1,505.3 381.4,505.7 381.7,506.3 381.3,497.4 381.6,498.1 381.9,496.4 382.2,496.5 382.5,496.6 382.8,496.4 383.1,496.7 382.8,491.0 382.4,485.6 382.7,483.4 383.0,481.1 383.3,480.4 383.6,478.3 383.9,475.9 384.2,477.2 384.5,480.3 384.8,481.8 385.1,484.0 385.4,486.3 385.7,484.6 386.0,480.9 386.3,478.9 386.6,477.2 386.9,474.4 387.2,477.3 387.5,480.7 387.7,483.0 388.0,486.6 388.3,490.0 388.6,485.3 388.9,482.2 389.1,477.8 389.4,474.4 389.8,489.3 390.1,486.9 390.4,484.7 390.6,482.5 390.9,481.1 391.2,481.0 391.5,480.2 391.9,480.0 392.2,479.6 392.5,478.9 392.8,478.1 393.1,473.9 393.4,470.0 393.7,474.0 394.0,477.4 394.4,481.1 394.7,485.1 395.0,488.1 395.4,482.7 395.7,478.1 396.0,479.3 396.3,478.5 396.6,480.6 396.9,480.1 397.2,481.1 397.2,473.7 397.5,473.4 397.8,473.4 398.1,471.5 398.5,471.6 398.8,471.7 399.1,470.7 399.4,466.3 399.7,466.3 400.0,466.4 400.4,466.2 400.7,465.1 401.0,466.3 401.3,465.6 401.6,466.2 401.9,467.6 402.2,467.6 402.5,468.5 402.8,469.3 403.1,468.6 403.4,467.9 403.7,467.8 404.0,466.8 404.3,466.6 404.6,466.3 404.9,465.8 405.2,467.2 405.5,467.1 405.8,467.4 406.0,466.6 406.3,466.4 406.6,467.6 406.9,467.0 406.6,469.1 406.4,471.7 406.1,473.7 406.4,475.1 406.7,477.0 407.0,478.1 407.4,479.1 407.7,480.3 408.0,482.2 408.3,483.7 408.6,482.8 408.9,482.5 409.2,482.0 409.5,481.0 409.7,481.8 410.0,481.1 410.3,480.3 410.6,479.6 410.3,476.7 410.1,473.5 409.8,470.7 410.1,471.0 410.4,472.1 410.7,472.3 411.1,473.5 411.4,474.5 411.7,474.9 412.0,475.2 412.3,474.1 412.5,472.1 412.8,470.0 413.1,469.4 413.4,469.0 413.7,469.4 414.0,468.8 414.2,468.6 414.5,468.8 414.8,468.7 415.1,469.6 415.4,468.1 415.7,468.5 416.0,468.1 416.3,469.8 416.6,469.0 416.9,469.8 417.1,470.4 417.4,471.2 417.7,471.1 418.0,471.5 418.3,471.9 418.6,470.9 418.9,472.1 419.2,471.6 419.4,470.5 419.7,472.0 420.0,471.8 420.3,470.7 420.6,471.9 420.9,471.1 421.2,471.0 421.5,469.5 421.8,468.5 422.1,467.6 422.4,467.0 422.7,466.7 422.9,466.1 423.2,465.3 423.5,464.1 423.8,464.0 424.1,465.0 424.4,465.7 424.8,466.4 425.1,467.3 425.4,467.8 425.1,471.7 424.9,473.9 424.6,476.8 424.3,480.4 424.6,480.6 424.9,481.0 425.2,480.7 425.5,481.3 425.8,482.4 426.1,481.9 426.4,478.4 426.6,473.6 426.9,470.0 427.2,470.9 427.5,470.6 427.8,471.6 428.2,470.5 428.5,471.7 428.8,471.2 429.1,472.2 429.5,477.1 429.8,481.1 429.4,484.8 429.7,484.1 430.0,484.9 430.3,484.5 430.6,483.9 430.8,483.7 431.1,482.8 431.4,483.1 431.7,483.5 432.0,482.6 432.3,482.0 432.6,483.5 432.9,483.4 433.3,482.4 433.6,483.1 433.9,483.3 434.3,501.1 434.6,503.2 434.9,504.4 435.1,506.4 435.4,507.2 435.4,530.1 435.7,528.9 436.0,525.5 436.3,523.8 436.6,522.7 436.9,520.4 437.2,519.0 437.5,516.2 437.8,514.4 438.1,522.8 438.4,531.3 438.7,532.8 439.0,534.8 439.3,536.8 439.6,539.2 439.9,541.4 440.2,543.3 439.9,553.4 439.6,565.0 439.9,562.8 440.2,560.9 440.5,558.4 440.8,557.4 441.1,554.6 441.4,553.0 441.7,557.7 442.0,561.3 442.3,567.2 442.6,571.0 442.9,568.1 443.2,564.5 443.5,560.4 443.8,557.3 444.1,553.2 444.4,550.5 444.7,559.3 445.0,568.6 445.3,565.5 445.6,562.1 445.9,558.1 446.2,555.5 446.5,551.4 446.8,548.0 447.1,545.0 447.4,540.9 447.7,550.1 448.0,560.2 448.3,557.5 448.6,555.0 449.0,551.4 449.3,549.3 449.6,556.2 449.9,563.8 450.2,564.8 450.5,565.5 450.8,567.1 451.1,567.3 451.4,568.4 451.7,568.6 452.0,570.1 452.3,571.0 452.0,581.9 451.7,591.5 452.0,591.1 452.3,589.2 452.6,588.4 452.9,586.2 453.2,584.7 453.5,584.8 453.8,583.0 454.1,581.8 454.1,619.1 454.4,613.0 454.7,607.5 455.0,601.6 455.3,596.3 455.6,596.5 455.9,597.0 456.2,596.5 456.5,596.4 456.8,595.8 457.1,596.3 457.4,591.7 457.7,586.6 458.0,581.5 458.3,575.8 458.6,576.4 458.9,578.6 459.2,579.9 459.5,581.4 459.8,583.1 460.1,584.2 460.4,582.4 460.7,581.0 461.0,578.0 461.3,576.5 461.6,574.8 461.9,573.2 462.2,572.2 462.5,569.8 462.8,571.8 463.1,572.3 463.4,573.8 463.7,575.6 464.0,577.3 464.3,579.4 464.6,580.4 464.9,581.8 465.2,580.8 465.5,581.0 465.8,580.9 466.1,579.9 466.4,579.1 466.7,578.8 467.0,578.6 467.3,578.2 467.6,581.3 467.9,582.4 468.2,584.7 468.5,587.8 468.8,585.4 469.1,584.6 469.4,583.7 469.7,581.8 470.0,579.5 470.3,578.2 470.6,579.6 470.9,581.0 471.2,582.4 471.5,583.0 471.8,579.6 472.1,575.6 472.4,571.6 472.7,568.0 473.0,568.7 473.3,568.6 473.6,569.3 473.9,569.3 474.2,568.7 474.5,568.7 474.8,568.8 475.1,569.8 475.4,570.4 475.7,572.1 476.0,571.9 476.3,572.2 476.6,574.4 476.9,574.6 477.2,576.3 477.5,578.0 477.8,578.8 478.1,581.0 478.4,582.3 478.7,584.2 479.0,584.7 479.3,586.6 479.6,587.1 479.9,588.4 480.2,590.4 480.5,591.5 480.8,589.7 481.1,587.3 481.4,584.2 481.7,581.8 482.0,581.0 482.3,581.4 482.6,581.8 482.9,580.1 483.2,581.1 483.6,579.8 483.9,579.4 484.2,579.9 484.5,580.2 484.8,579.4 485.1,577.8 485.4,576.7 485.7,575.4 486.0,574.6 486.3,572.8 486.6,572.2 486.9,569.3 487.2,565.2 487.5,562.6 487.8,559.0 488.1,559.4 488.4,560.8 488.7,561.5 489.0,563.4 489.3,564.6 489.6,565.0 489.9,566.6 490.2,569.0 490.5,569.3 490.8,570.7 491.1,572.5 491.4,574.6 491.7,586.4 492.0,597.5 492.3,596.0 492.6,593.1 492.9,591.3 493.2,589.0 493.5,585.8 493.8,584.2 494.1,585.8 494.4,587.9 494.7,589.8 495.0,591.2 495.3,592.9 495.6,594.9 495.9,597.3 496.2,598.7 496.5,595.7 496.8,593.2 497.1,589.1 497.4,586.6 497.7,587.3 498.0,587.7 498.3,589.4 498.6,590.2 498.9,590.8 499.2,592.1 499.5,593.3 499.8,593.9 500.1,592.5 500.4,592.8 500.7,592.8 501.0,591.2 501.3,591.5 501.6,590.0 501.9,590.0 502.2,589.0 502.5,590.2 502.8,591.3 503.1,591.5 503.4,592.6 503.7,594.1 504.0,595.1 504.3,596.0 504.6,596.1 504.9,595.5 505.2,597.1 505.5,597.4 505.8,597.8 506.1,596.8 506.4,597.3 506.7,597.8 507.0,598.7 507.3,598.8 507.6,599.1 507.9,598.6 508.2,597.4 508.5,598.6 508.8,597.5 509.1,597.6 509.4,597.5 509.4,584.2 509.7,583.1 510.0,582.4 510.3,580.1 510.6,579.0 510.9,577.6 511.2,577.0 511.5,575.4 511.8,573.2 512.1,572.8 512.4,571.1 512.7,569.4 513.0,567.4 513.3,558.4 513.6,549.3 513.9,546.8 514.2,545.6 514.5,543.3 514.8,540.7 515.1,537.8 515.4,536.1 515.7,536.6 516.0,537.1 516.3,538.3 516.6,539.3 516.9,540.5 517.2,540.4 517.5,540.9 517.8,542.1 518.1,539.2 518.4,536.3 518.7,532.8 519.0,530.1 519.3,526.6 519.6,523.4 520.0,520.3 520.3,517.0 520.6,513.0 520.9,509.6 521.2,508.1 521.5,505.3 521.7,504.0 522.0,502.6 522.3,500.1 522.6,501.5 522.9,501.7 523.2,502.0 523.6,503.4 523.9,504.9 524.2,505.2 524.5,510.4 524.8,513.5 525.0,518.8 525.3,523.4 525.6,527.4 525.9,522.6 526.2,517.6 526.5,511.7 526.8,513.3 527.1,515.4 527.4,517.7 527.7,520.3 528.0,521.4 528.3,523.7 528.6,522.7 528.9,520.9 529.1,519.6 529.4,518.5 529.7,516.3 530.0,517.8 530.3,519.0 530.5,521.4 530.8,522.2 531.1,523.7 531.1,533.9 531.4,534.0 531.7,536.0 532.0,535.6 532.4,537.0 532.7,538.2 533.0,538.5 533.3,545.2 533.6,551.0 533.9,557.0 534.2,557.4 534.5,557.4 534.8,558.2 535.0,557.7 535.3,557.7 535.6,557.8 535.9,558.0 536.2,558.9 536.5,552.4 536.8,547.2 537.1,540.4 537.1,532.0 537.4,529.9 537.7,528.2 538.0,525.9 538.4,522.6 538.7,521.7 539.0,519.1 539.3,523.9 539.6,530.1 539.9,534.8 540.2,532.5 540.5,531.9 540.8,529.9 541.2,527.9 541.5,524.8 541.8,523.7 542.1,525.7 542.4,527.5 542.7,530.5 543.0,531.5 543.3,533.5 543.6,536.2 543.9,530.4 544.2,524.6 544.5,518.1 544.8,517.6 545.1,516.9 545.4,516.4 545.7,515.7 546.0,514.5 546.3,513.0 546.6,512.4 546.9,511.7 547.2,509.6 547.5,507.4 547.8,506.1 548.1,505.0 548.4,505.5 548.7,504.3 549.0,503.8 549.3,504.1 549.5,503.2 549.8,501.6 550.1,502.3 550.4,501.3 550.7,501.1 551.0,500.1 551.3,501.4 551.6,502.9 551.8,503.9 552.1,504.3 552.4,506.1 552.1,516.5 551.9,527.4 552.2,525.9 552.5,523.8 552.8,523.0 553.1,521.3 553.5,519.9 553.8,516.9 554.1,516.2 554.4,514.0 554.7,512.6 555.0,516.2 555.3,521.1 555.6,525.6 555.9,527.0 556.2,527.3 556.4,529.3 556.7,529.3 557.0,531.1 556.6,549.6 556.9,550.8 557.2,550.9 557.5,551.6 557.8,552.3 558.1,552.2 558.3,553.0 558.6,553.9 558.9,554.1 559.2,554.6 559.5,556.3 559.8,556.1 560.1,555.2 560.4,554.4 560.7,554.2 561.0,554.4 561.2,553.4 561.5,553.3 561.8,551.4 562.1,551.5 562.4,549.6 562.8,547.2 563.1,544.1 562.8,536.7 562.4,530.9 562.1,523.7 562.4,525.6 562.7,525.5 563.0,527.2 563.2,528.3 563.5,528.9 563.8,530.1 564.1,531.7 564.4,533.0 564.0,523.7 564.3,522.8 564.6,522.0 564.9,521.3 565.1,520.2 565.4,519.0 565.7,518.2 566.0,517.5 566.3,516.3 566.6,517.7 566.9,518.6 567.2,519.6 567.5,520.1 567.9,521.2 568.2,522.8 568.5,522.8 568.8,524.3 569.1,525.6 569.4,522.4 569.7,520.6 569.9,518.6 570.2,515.9 570.5,512.6 570.8,513.6 571.1,514.2 571.4,516.1 571.6,516.5 571.9,517.7 572.2,517.4 572.5,519.2 572.8,520.0 573.1,516.4 573.4,513.2 573.7,509.8 574.0,509.3 574.3,509.7 574.7,508.7 575.0,508.2 575.3,508.3 575.6,508.0 575.9,509.4 576.2,508.8 576.5,509.5 576.8,510.1 577.0,510.9 577.3,512.7 577.6,513.2 577.9,513.5 578.2,513.1 578.5,511.6 578.8,510.9 579.0,510.0 579.3,509.5 579.6,508.0 579.9,507.8 580.2,507.0 580.5,505.9 580.8,505.2 581.1,503.3 581.4,503.9 581.7,504.2 582.0,506.4 582.4,505.9 582.7,507.9 583.0,508.0 583.3,507.0 583.6,505.8 583.9,504.8 584.2,504.3 584.5,503.4 584.8,502.4 584.8,491.3 585.1,491.2 585.4,491.7 585.7,491.1 586.0,490.7 586.3,491.0 586.6,491.0 586.9,489.6 587.2,490.6 587.5,490.4 587.8,489.7 588.1,489.4 588.5,504.3 588.8,505.6 589.1,507.4 589.5,508.6 589.8,509.9 590.1,511.9 590.4,512.6 590.7,512.2 591.0,510.1 591.3,509.5 591.5,507.3 591.8,507.6 592.1,505.6 592.4,504.2 592.7,503.3 593.0,506.9 593.3,510.8 593.5,514.5 593.8,518.6 594.1,521.9 594.4,519.3 594.7,518.9 594.9,516.9 595.2,514.3 595.5,512.6 595.8,512.6 596.1,512.4 596.4,512.3 596.6,511.1 596.9,511.1 597.2,511.4 597.5,511.5 597.8,510.7 598.1,512.3 598.4,514.6 598.6,517.4 598.9,519.8 599.2,521.4 599.5,519.7 599.8,517.6 600.1,515.9 600.4,514.6 600.7,513.7 601.0,511.7 601.3,511.8 601.6,512.8 601.9,512.8 602.2,513.1 602.6,512.8 602.9,513.3 603.2,513.1 603.5,513.1 603.8,513.5 604.0,506.6 604.3,499.6 604.6,498.9 604.9,498.5 605.2,496.1 605.5,495.7 605.7,495.1 606.0,494.7 606.3,493.0 606.6,492.2 606.9,497.2 607.2,503.3 607.5,508.9 607.8,507.4 608.1,506.9 608.4,507.2 608.6,505.5 608.9,504.7 609.2,503.6 609.5,503.0 609.8,502.4 610.1,504.1 610.4,506.9 610.7,508.9 611.0,501.4 611.4,493.6 611.7,486.7 612.0,487.3 612.3,486.6 612.6,486.9 612.9,486.9 613.2,486.2 613.5,486.3 613.8,485.8 614.1,485.6 614.4,485.7 614.7,487.2 615.0,489.2 615.3,491.6 615.7,493.0 616.0,494.8 616.3,495.9 616.6,495.1 616.9,495.5 617.1,494.0 617.4,493.8 617.7,493.1 618.0,501.2 618.3,508.4 618.6,515.4 618.9,514.2 619.2,513.6 619.5,513.5 619.8,513.6 620.1,511.8 620.4,511.2 620.7,511.7 621.0,511.1 621.3,510.1 621.6,509.5 621.9,508.9 621.6,503.3 621.4,498.7 621.7,497.5 622.0,497.7 622.3,496.5 622.6,495.8 622.9,495.6 623.2,494.1 623.5,494.7 623.8,495.8 624.2,496.2 624.5,496.2 624.8,496.7 625.1,497.8 625.4,496.5 625.7,495.1 626.0,494.4 626.2,493.2 626.5,493.1 626.8,491.0 627.1,490.5 627.4,489.4 627.7,490.5 628.0,491.8 628.3,493.9 628.6,495.0 629.0,496.6 629.3,497.4 629.6,500.3 629.9,500.5 630.2,502.4 630.5,502.4 630.8,500.5 631.1,500.8 631.4,498.9 631.6,498.3 631.9,497.5 632.2,496.5 632.5,495.9 632.8,494.9 633.1,495.5 633.4,494.1 633.6,493.9 633.9,493.4 634.2,493.4 634.5,492.1 634.8,492.2 635.1,491.1 635.4,491.3 635.7,491.1 636.0,489.6 636.2,489.0 636.5,489.2 636.8,488.5 637.1,487.6 637.4,487.4 637.7,489.0 638.0,489.2 638.2,489.1 638.5,489.8 638.8,489.5 639.1,489.3 639.4,490.4 639.7,490.3 640.0,491.5 640.3,490.7 640.7,491.4 641.0,492.7 641.3,492.2 641.6,489.4 641.9,486.4 642.2,483.0 642.5,483.4 642.8,483.0 643.1,482.1 643.4,482.3 643.6,480.6 643.9,480.1 644.2,480.9 644.5,480.2 644.2,476.6 644.0,473.7 643.7,470.0 643.5,470.2 643.2,468.9 643.5,469.1 643.8,468.9 644.1,468.5 644.4,468.4 644.7,467.9 645.0,468.4 645.3,467.9 645.6,468.0 645.4,463.1 645.1,456.9 645.4,456.9 645.7,457.0 646.0,456.0 646.3,456.1 646.6,456.9 646.9,455.9 646.5,442.0 646.8,438.7 647.1,436.4 647.3,432.2 647.6,428.9 647.9,426.3 648.2,428.6 648.5,431.4 648.8,433.9 649.1,436.7 649.4,440.5 649.7,443.0 650.0,435.0 650.2,426.3 650.5,428.9 650.8,432.0 651.0,434.3 651.3,437.1 651.6,439.3 651.9,436.2 652.2,433.7 652.4,429.9 652.7,427.2 653.0,423.5 653.3,426.5 653.6,428.3 653.9,430.0 654.2,433.0 654.5,434.7 654.8,437.4 655.0,429.8 655.3,420.7 655.6,420.1 655.9,419.5 656.2,419.6 656.5,417.8 656.7,418.1 657.0,416.8 657.3,416.1 657.6,416.1 657.9,417.7 658.2,420.2 658.4,422.7 658.7,424.6 659.0,427.2 659.3,420.3 659.6,411.1 659.9,404.1 660.2,404.0 660.5,404.3 660.8,404.0 661.2,404.0 661.5,404.0 661.8,404.1 662.1,403.1 662.4,403.7 662.7,402.9 663.0,401.3 663.3,400.6 663.6,400.8 663.9,405.5 664.2,410.4 664.5,416.1 664.8,415.4 665.1,415.8 665.4,415.8 665.7,416.5 666.0,416.8 666.3,416.1 666.6,415.9 666.9,415.8 667.2,416.1 667.5,415.8 667.8,416.1 668.1,410.7 668.4,407.4 668.7,402.2 669.0,401.6 669.3,401.1 669.6,402.0 669.9,401.0 670.1,401.2 670.4,400.9 670.7,401.0 671.0,400.8 671.3,401.9 671.6,403.8 672.0,404.9 672.3,405.4 672.6,407.7 672.9,408.7 673.2,407.8 673.5,406.9 673.8,406.7 674.0,405.8 674.3,404.2 674.6,404.4 674.9,403.7 675.2,402.2 675.5,402.1 675.8,403.6 676.1,403.5 676.4,402.7 676.7,404.3 677.0,404.1 677.3,407.6 677.7,412.2 678.0,417.0 678.3,420.4 678.6,422.6 678.9,425.9 679.2,428.8 679.5,432.5 679.8,435.6 680.1,433.9 680.4,433.7 680.8,432.3 681.1,430.2 681.4,430.0 681.7,428.1 682.0,423.2 682.3,419.8 682.6,415.2 682.9,414.5 683.2,414.6 683.5,412.8 683.8,412.6 684.0,411.2 684.3,411.3 684.6,410.6 684.9,409.6 685.2,409.4 685.5,410.5 685.7,410.8 686.0,412.0 686.3,412.4 686.6,415.6 686.9,419.7 687.2,423.5 687.5,423.4 687.8,425.3 688.0,424.7 688.3,425.6 688.6,426.3 688.9,421.9 689.1,416.1 689.4,415.9 689.7,417.3 690.0,417.2 690.3,417.1 690.7,418.4 691.0,418.4 691.3,417.8 691.6,419.4 691.9,418.9 692.2,421.6 692.5,423.8 692.8,426.3 693.1,426.0 693.4,427.7 693.7,427.9 694.0,428.5 694.3,428.5 694.6,429.1 694.9,429.8 695.2,432.5 695.5,433.4 695.9,434.1 696.2,435.8 696.5,436.9 696.8,436.2 697.1,435.9 697.4,434.8 697.7,434.0 698.0,433.2 698.3,431.9 698.6,429.1 699.0,427.3 699.3,424.4 699.6,425.0 699.9,425.5 700.2,426.7 700.5,428.4 700.8,429.6 701.1,430.0 701.4,429.2 701.7,427.6 702.0,426.4 702.2,425.1 702.5,423.3 702.8,421.7 703.1,418.3 703.4,414.7 703.7,410.6 704.0,411.3 704.3,410.9 704.7,411.1 705.0,411.1 705.3,410.8 705.6,411.5 705.9,410.1 706.2,407.8 706.6,406.4 706.9,405.0 706.9,389.3 707.2,390.7 707.5,393.1 707.7,394.8 708.0,397.1 708.3,398.5 708.6,396.6 708.9,394.0 709.1,391.9 709.4,389.3 709.7,387.4 710.0,383.1 710.2,380.0 710.5,379.8 710.8,379.8 711.0,380.0 711.3,380.7 711.6,380.0 711.9,382.0 712.2,382.4 712.4,383.9 712.7,385.3 713.0,387.4 713.3,386.4 713.6,384.9 713.9,383.7 714.2,385.0 714.5,386.3 714.8,387.0 715.0,388.3 715.3,388.1 715.6,389.4 715.9,391.7 716.2,392.0 716.5,391.6 716.8,391.2 717.1,390.4 717.4,390.0 717.6,390.2 717.9,389.4 718.2,390.1 718.5,389.3 718.8,385.8 719.0,382.8 719.3,381.2 719.6,380.0 719.9,379.1 720.2,379.1 720.5,376.8 720.8,376.3 721.1,377.3 721.4,378.1 721.6,378.1 721.9,379.2 722.2,380.0 721.8,366.1 722.1,366.3 722.4,365.7 722.7,365.9 723.0,365.7 723.3,364.1 723.6,364.3 723.9,363.4 724.2,362.7 724.4,360.4 724.7,359.3 725.0,358.7 725.3,364.0 725.6,369.0 725.9,373.5 726.2,371.1 726.5,370.6 726.7,368.6 727.0,366.5 727.3,365.2 727.6,365.7 727.9,367.1 728.1,368.0 728.4,367.4 728.7,368.9 729.0,373.0 729.3,375.9 729.6,380.0 729.9,379.6 730.2,379.2 730.5,379.4 730.8,379.5 731.0,379.5 731.3,379.2 731.6,377.7 731.9,378.1 732.2,376.5 732.5,375.2 732.8,373.6 733.2,370.7 733.5,370.0 733.8,368.0 734.1,369.9 734.4,371.3 734.6,374.8 734.9,376.2 735.2,378.1 735.5,377.4 735.8,376.6 736.1,375.8 736.4,375.2 736.7,374.9 737.0,374.4 737.2,377.6 737.5,381.9 737.8,380.4 738.1,381.3 738.4,380.3 738.6,379.6 738.9,378.9 739.2,378.1 739.5,377.7 739.8,376.3 740.1,377.6 740.4,377.5 740.8,378.9 741.1,380.4 741.4,381.1 741.7,381.9 742.0,379.6 742.3,379.1 742.6,377.2 742.9,376.4 743.2,376.3 743.5,374.7 743.8,374.2 744.2,372.9 744.5,372.5 744.8,370.8 745.1,370.0 745.4,369.8 745.8,376.3 746.1,377.6 746.4,377.7 746.8,378.6 747.1,380.3 747.4,380.7 747.7,381.9 748.0,378.9 748.3,376.3 748.6,374.4 748.9,372.2 749.2,370.2 749.4,368.1 749.7,367.8 750.0,365.2 750.3,365.2 750.6,365.4 750.9,365.2 751.1,364.5 751.4,364.8 751.7,363.8 752.0,363.4 752.3,363.3 752.6,363.7 752.9,364.6 753.1,364.7 753.4,366.3 753.7,366.1 754.0,363.8 754.3,360.3 754.5,357.0 754.8,353.8 755.1,351.3 755.4,351.2 755.7,351.7 755.9,352.6 756.2,354.1 756.5,354.1 756.5,360.6 756.8,359.7 757.1,360.4 757.4,360.0 757.7,359.9 758.1,359.3 758.4,359.8 758.7,359.6 759.0,360.5 759.3,359.6 759.3,366.6 759.6,366.5 759.9,367.5 760.2,367.0 760.5,366.5 760.8,367.9 761.1,367.0 761.3,367.3 761.6,367.7 761.9,367.1 762.2,367.6 762.5,367.3 762.8,367.4 763.1,367.7 763.4,368.0 763.6,365.4 763.9,362.4 764.2,362.5 764.5,363.0 764.8,362.9 765.0,364.4 765.3,363.9 765.6,364.5 765.9,364.2 766.2,365.2 766.5,366.4 766.8,368.3 767.1,368.0 767.4,369.4 767.6,371.1 767.9,371.9 768.2,373.7 768.5,374.4 768.8,374.2 769.1,373.3 769.5,371.3 769.8,372.0 770.1,370.0 770.4,369.8 770.7,369.3 771.0,369.2 771.3,367.6 771.6,366.6 771.9,366.1 772.2,366.6 772.5,365.0 772.8,365.2 773.1,364.3 773.4,363.5 773.8,362.0 774.1,359.6 774.4,360.0 774.7,359.1 775.0,358.7 775.3,358.7 775.6,358.4 776.0,359.5 776.3,357.8 776.6,359.0 776.9,358.6 777.2,358.2 777.5,357.5 777.8,357.8 778.1,359.6 778.4,360.5 778.6,360.5 778.9,362.1 779.2,363.3 779.5,362.0 779.8,362.3 780.0,362.0 780.3,360.8 780.6,360.6 780.9,361.4 781.2,360.9 781.5,361.4 781.8,361.2 782.1,360.6 782.3,360.5 782.6,361.4 782.9,361.0 783.2,360.6 783.5,360.7 783.8,361.5 784.1,360.7 784.4,359.8 784.6,357.4 784.9,357.2 785.2,355.9 785.5,356.1 785.8,355.3 786.1,353.9 786.4,354.8 786.8,353.4 787.1,354.2 787.4,352.8 787.7,353.1 788.0,352.2 788.3,352.2 788.6,351.9 788.8,353.0 789.1,352.8 789.4,352.2 789.7,352.5 790.0,354.2 790.3,355.0 790.6,355.6 790.9,357.1 791.2,357.8 791.5,361.2 791.8,364.0 792.0,366.5 792.3,369.8 792.6,372.6 792.9,371.4 793.2,371.3 793.5,370.5 793.8,368.9 794.1,368.5 794.4,368.0 794.7,366.9 795.0,366.2 795.3,366.2 795.7,365.3 796.0,365.0 796.3,364.3 796.6,362.1 796.9,359.2 797.2,356.9 797.5,356.0 797.8,355.2 798.0,353.8 798.3,352.7 798.6,352.2 798.9,352.7 799.2,352.4 799.5,353.4 799.8,353.0 800.0,353.4 800.3,353.1 800.6,353.5 800.9,354.1 801.2,352.9 801.5,350.3 801.8,349.0 802.2,346.9 802.5,346.0 802.8,343.9 803.1,344.8 803.4,345.4 803.6,347.0 803.9,348.2 804.2,348.5 804.6,353.1 804.9,355.4 805.2,356.4 805.4,359.6 805.7,361.6 806.0,363.3 806.3,362.4 806.6,360.2 806.8,360.2 807.1,357.8 807.4,356.9 807.7,355.9 808.0,355.5 808.2,355.4 808.5,354.7 808.8,355.0 809.1,356.8 809.4,360.2 809.7,362.4 810.0,364.9 810.3,366.7 810.6,368.9 810.9,367.5 811.2,367.0 811.5,366.7 811.9,366.1 812.2,365.5 812.5,365.2 812.8,365.6 813.1,365.3 813.5,365.1 813.8,364.8 814.1,365.4 814.4,365.2 814.7,369.1 815.0,372.7 815.3,375.4 815.6,373.4 815.9,373.1 816.1,371.2 816.4,370.9 816.7,368.9 817.0,369.4 817.3,369.7 817.6,368.8 817.9,370.2 818.2,369.5 818.5,370.6 818.8,370.8 819.1,370.6 819.4,370.7 819.7,370.3 820.0,368.0 820.2,367.4 820.5,366.1 820.8,365.2 821.1,367.0 821.5,369.9 821.8,372.6 822.1,373.5 822.4,372.9 822.7,373.5 822.7,394.8 823.0,400.1 823.3,405.7 823.5,410.8 823.8,415.2 824.1,420.7 824.4,410.5 824.7,399.2 825.0,389.3 825.3,388.2 825.6,389.0 825.8,388.2 826.1,387.1 826.4,387.4 826.7,389.9 827.0,392.4 827.2,394.3 827.5,397.1 827.8,398.5 828.1,398.8 828.3,399.8 828.6,399.2 828.9,400.0 829.2,403.0 829.5,405.9 829.8,408.3 830.1,410.2 830.4,413.3 830.8,421.9 831.1,431.9 831.4,430.8 831.7,427.4 832.0,426.1 832.3,425.0 832.6,423.2 832.9,420.5 833.2,418.5 833.5,417.1 833.8,415.0 834.1,413.3 834.4,416.0 834.7,418.5 835.0,421.1 835.3,423.5 835.6,426.7 836.0,421.1 836.3,416.3 836.6,418.7 836.9,421.2 837.2,423.5 837.6,424.7 837.9,428.0 838.2,430.2 838.5,431.9 838.8,427.0 839.1,420.8 839.4,415.0 839.7,409.6 840.0,404.4 840.3,404.7 840.6,404.7 840.9,405.4 841.2,404.4 841.5,404.4 841.8,405.4 842.1,405.8 842.4,406.2 842.7,405.7 843.0,405.9 843.3,407.0 843.6,408.0 843.9,410.4 844.2,412.0 844.5,412.0 844.7,414.1 845.0,415.5 845.3,416.9 845.6,417.9 845.9,419.3 845.5,425.0 845.2,431.1 845.5,431.2 845.8,430.5 846.1,431.1 846.4,431.2 846.7,431.1 846.7,454.8 847.0,454.0 847.3,452.8 847.5,452.3 847.8,450.6 848.1,450.4 848.4,452.2 848.7,454.1 849.0,455.3 849.3,458.0 849.6,459.3 849.3,466.3 849.0,472.5 848.7,477.7 848.4,483.4 848.1,490.4 848.4,492.2 848.7,492.8 849.0,494.5 849.3,495.0 849.6,496.3 849.9,494.1 850.2,491.5 850.5,489.6 850.8,488.6 851.1,485.9 851.4,494.6 851.6,503.0 851.9,511.1 852.2,513.3 852.5,516.5 852.7,519.2 853.0,522.5 853.3,525.9 853.0,532.8 852.6,540.0 852.6,635.0 854.5,551.0 855.6,680.0 856.5,552.0 856.8,568.5 857.2,583.6 857.5,600.0 857.8,622.1 858.2,644.9 858.5,668.0 858.8,681.2 859.1,694.8 859.4,709.0 859.7,700.1 860.1,693.0 860.4,684.0 860.7,684.0 861.1,685.1 861.4,686.0 862.4,575.0 862.7,572.3 863.0,569.9 863.3,566.3 863.7,563.5 864.0,560.7 864.3,557.5 864.6,557.4 864.9,557.9 865.2,557.0 865.6,557.0 865.9,557.8 866.2,557.5 865.9,571.9 865.6,586.9 865.3,602.0 865.6,601.7 865.9,602.6 866.2,601.9 866.5,602.5 866.8,603.5 867.0,603.7 867.3,602.9 867.6,603.2 867.9,603.4 868.2,604.0 868.5,609.5 868.9,615.8 869.2,622.0 868.9,626.4 868.5,630.5 868.2,635.0 868.5,633.8 868.8,633.1 869.1,633.6 869.4,632.2 869.7,631.4 869.9,631.2 870.2,630.9 870.5,631.0 870.8,629.2 871.1,629.0 871.4,628.8 871.8,628.4 872.1,629.0 871.8,647.3 871.4,666.3 871.1,686.0 871.4,688.6 871.7,689.0 872.0,691.1 872.2,693.2 872.5,695.9 872.8,697.8 873.1,699.0 873.4,712.2 873.7,726.1 874.0,739.0 874.3,720.3 874.7,701.5 875.0,682.0 875.3,683.6 875.6,686.6 876.0,689.6 876.3,690.8 876.6,693.1 876.9,696.0 876.6,675.4 876.3,654.5 876.0,635.0 876.3,629.2 876.6,623.4 877.0,615.7 877.3,609.7 877.6,604.0 877.9,598.0 878.2,596.1 878.5,594.2 878.8,592.7 879.0,591.5 879.3,589.9 879.6,589.2 879.9,587.0 880.2,591.4 880.5,596.7 880.8,600.6 881.2,604.3 881.5,608.7 881.8,614.0 881.8,569.0 882.1,564.8 882.4,561.6 882.6,557.7 882.9,553.4 883.2,550.0 883.6,543.0 883.9,542.8 884.2,543.6 884.5,543.5 884.8,542.9 885.1,542.9 885.4,544.0 885.7,544.7 886.0,544.0 886.4,551.9 886.7,559.0 887.0,556.2 887.3,552.3 887.5,550.1 887.8,546.1 888.1,543.0 888.4,540.0 888.7,542.8 889.0,546.9 889.3,550.0 889.6,554.0 889.9,560.6 890.3,567.8 890.6,575.0 890.9,577.4 891.2,580.2 891.5,582.4 891.9,583.9 892.2,587.1 892.5,589.0 892.8,582.8 893.2,576.0 893.5,569.0 893.8,549.0 894.1,545.5 894.4,541.3 894.7,538.5 895.0,535.0 895.3,535.1 895.6,533.9 895.9,533.4 896.2,533.4 896.5,532.6 896.8,531.6 897.1,531.7 897.4,531.0 897.7,536.6 898.0,543.0 898.4,548.5 898.7,554.0 899.0,552.0 899.3,548.7 899.6,545.9 899.9,543.0 900.2,544.0 900.5,545.2 900.8,546.1 901.1,548.3 901.4,548.2 901.7,550.0 902.0,542.8 902.3,535.0 902.6,533.9 902.9,533.7 903.2,533.3 903.5,533.7 903.8,532.6 904.1,532.0 903.8,525.7 903.5,518.0 903.8,518.2 904.1,517.1 904.4,517.4 904.7,516.5 905.0,516.4 905.3,516.6 905.0,510.7 904.7,505.8 905.0,504.4 905.3,502.9 905.6,501.4 905.9,500.7 906.2,499.7 906.5,498.4 906.8,497.6 907.1,497.0 907.4,495.6 907.7,493.8 908.0,500.2 908.3,505.3 908.6,512.4 908.9,517.8 909.2,512.1 909.5,507.5 909.8,502.4 910.1,496.2 910.4,500.2 910.7,502.1 911.0,506.5 911.3,509.4 911.6,504.8 911.9,501.1 912.2,497.2 912.5,492.6 912.8,492.2 913.1,492.0 913.4,493.0 913.7,493.1 914.0,492.5 914.3,492.6 914.6,499.3 914.9,505.8 915.2,503.4 915.5,501.8 915.8,499.3 916.1,497.4 916.4,504.4 916.7,513.0 917.0,510.8 917.3,508.4 917.6,506.0 917.9,504.6 918.2,494.8 918.5,484.2 918.8,481.0 919.1,478.2 919.4,475.9 919.7,473.3 920.0,473.9 920.3,474.5 920.6,474.6 920.9,475.2 921.2,475.3 921.5,475.7 921.8,483.6 922.1,491.4 922.4,493.8 922.7,497.5 923.0,500.2 923.3,502.2 923.6,503.1 923.9,503.3 924.2,503.6 924.5,504.6 924.8,495.6 925.1,486.6 925.4,485.1 925.7,484.2 926.0,484.2 926.3,482.5 926.6,482.0 926.9,480.5 927.2,479.9 927.5,479.1 927.8,478.6 928.1,479.4 928.4,479.2 928.7,478.1 928.4,488.1 928.1,497.4 928.4,496.3 928.7,494.5 929.0,493.8 929.3,492.8 929.6,490.7 929.9,489.8 930.2,487.5 930.5,486.6 930.8,484.6 931.1,480.8 931.4,477.8 931.7,475.7 932.0,472.7 932.4,470.7 932.7,467.1 933.0,464.9 933.3,465.2 933.6,464.3 933.9,465.1 934.2,463.3 934.5,463.3 934.8,463.7 935.1,464.6 935.4,464.6 935.7,465.5 936.0,465.0 936.3,466.2 936.6,466.1 936.6,478.1 936.3,482.1 936.0,486.6 935.7,489.5 935.4,493.8 935.7,492.1 936.0,491.7 936.3,490.2 936.6,488.3 936.9,487.3 937.2,484.8 937.5,484.0 937.8,482.3 938.1,480.3 938.4,479.3 938.7,497.0 939.0,514.2 939.3,533.3 939.6,552.7 939.9,546.2 940.2,541.4 940.5,534.8 940.8,528.0 941.1,522.6 941.4,516.6 941.7,522.2 942.0,528.7 942.3,534.8 942.6,539.9 942.9,545.2 943.2,551.5 943.5,527.3 943.8,504.6 944.1,510.3 944.4,516.0 944.7,521.3 945.0,527.5 945.3,533.0 945.6,539.5 945.9,528.4 946.2,517.8 946.5,521.5 946.8,524.9 947.1,528.6 947.4,531.1 947.7,526.5 948.0,521.5 948.3,516.6 948.6,511.8 948.9,508.1 949.2,504.2 949.5,500.9 949.8,497.4 950.1,501.1 950.4,505.1 950.7,510.8 951.0,514.2 951.3,512.0 951.6,509.1 951.9,506.7 952.2,504.6 952.5,506.6 952.8,510.5 953.1,512.6 953.4,516.5 953.7,519.4 954.0,521.5 954.3,511.5 954.6,502.2 954.9,501.4 955.2,502.0 955.5,501.7 955.8,501.6 956.1,500.0 956.4,500.4 956.7,500.7 957.0,499.8 957.3,493.2 957.6,486.6 957.9,478.8 958.2,469.7 958.5,469.5 958.8,468.7 959.1,469.0 959.4,468.2 959.7,467.6 960.0,467.3 960.3,468.2 960.6,467.3 960.9,470.5 961.2,474.5 961.5,477.8 961.8,480.5 962.1,477.2 962.4,475.6 962.7,473.5 963.0,469.8 963.3,466.9 963.6,464.9 963.9,470.4 964.2,476.4 964.5,481.4 964.8,487.8 965.1,489.7 965.4,491.9 965.7,493.8 966.0,496.2 966.3,487.1 966.6,476.9 966.9,477.3 967.2,478.5 967.5,479.2 967.8,478.7 968.1,479.1 968.4,480.5 968.7,484.4 969.0,487.9 969.4,490.2 969.7,493.8 970.0,493.8 970.3,494.5 970.6,493.9 970.9,493.4 971.2,493.3 971.5,493.8 971.8,487.4 972.1,480.5 972.4,478.2 972.7,475.2 973.0,472.0 973.3,469.7 973.6,469.1 973.9,469.0 974.2,469.5 974.5,468.2 974.8,468.7 975.1,468.5 975.4,470.7 975.7,470.8 976.0,473.1 976.3,474.5 976.6,469.2 976.9,464.3 977.2,466.4 977.5,467.4 977.8,467.8 978.1,469.7 978.4,472.2 978.7,473.7 979.0,477.5 979.3,479.3 979.6,478.3 979.9,475.4 980.2,475.0 980.5,472.9 980.8,470.8 981.1,469.7 981.4,471.7 981.7,474.0 982.0,475.5 982.3,477.6 982.6,480.1 982.9,481.7 983.2,467.6 983.5,454.1 983.8,454.0 984.1,452.9 984.4,453.3 984.7,452.1 985.0,453.3 985.3,452.8 985.6,452.2 985.9,451.7 986.2,451.8 986.5,453.3 986.8,453.2 987.1,454.1 987.4,452.6 987.7,449.4 988.0,447.4 988.3,445.4 988.6,443.8 988.9,441.4 989.2,443.7 989.5,445.2 989.8,448.1 990.1,449.3 990.4,451.5 990.7,453.0 991.0,455.9 991.3,458.3 991.6,460.0 991.9,462.5 992.2,459.0 992.5,457.3 992.8,454.3 993.1,451.0 993.4,447.7 993.7,445.6 994.0,447.2 994.3,449.4 994.6,450.9 994.9,452.6 995.2,453.3 995.5,455.3 995.8,453.3 996.1,450.4 996.4,448.2 996.7,445.7 997.0,442.9 997.3,440.8 997.6,443.5 997.9,447.7 998.2,450.6 998.5,454.1 998.8,445.7 999.1,437.2 999.4,435.9 999.7,435.8 1000.0,435.5 1000.3,435.0 1000.6,434.8 1000.9,432.9 1001.2,432.5 1001.5,432.4 1001.8,434.3 1002.1,434.4 1002.4,436.1 1002.7,437.2 1003.0,441.5 1003.3,446.4 1003.6,451.3 1003.9,455.3 1004.2,454.9 1004.5,455.8 1004.8,455.0 1005.2,455.2 1005.5,455.0 1005.8,455.3 1006.1,451.6 1006.4,447.2 1006.7,442.4 1007.0,438.4 1007.3,440.1 1007.6,439.8 1007.9,441.7 1008.2,442.9 1008.5,443.1 1008.8,444.4 1008.5,458.4 1008.2,470.9 1008.5,470.2 1008.8,470.8 1009.1,469.4 1009.4,468.6 1009.7,468.9 1010.0,468.5 1010.3,484.8 1010.7,501.4 1011.0,519.0 1011.3,518.3 1011.6,517.1 1011.9,516.0 1012.2,513.9 1012.5,513.6 1012.8,511.5 1013.1,510.8 1013.4,499.5 1013.6,489.4 1013.9,488.7 1014.3,487.4 1014.6,485.4 1014.9,477.6 1015.3,471.0 1015.6,464.0 1015.9,464.9 1016.2,467.4 1016.5,467.6 1016.8,469.3 1017.1,471.1 1017.4,476.5 1017.6,483.3 1017.9,487.3 1018.2,489.8 1018.6,492.7 1018.9,496.9 1019.2,499.6 1019.5,491.5 1019.9,484.1 1020.2,477.2 1020.5,478.0 1020.8,478.6 1021.1,478.9 1021.4,479.1 1021.7,479.2 1022.0,488.3 1022.2,498.6 1022.5,499.3 1022.8,501.1 1023.1,502.4 1023.4,505.0 1023.7,505.7 1024.0,502.5 1024.2,498.7 1024.5,494.7 1024.8,490.4 1025.1,491.8 1025.4,493.4 1025.7,493.8 1025.9,495.0 1026.2,496.9 1026.5,498.9 1026.8,499.6 1027.0,493.4 1027.3,487.4 1027.5,481.7 1027.8,475.2 1028.1,474.6 1028.4,474.2 1028.7,474.7 1029.0,473.8 1029.2,472.7 1029.5,473.4 1029.8,472.6 1030.1,472.0 1030.4,472.1 1030.7,474.4 1031.1,478.3 1031.4,480.3 1031.7,479.8 1032.0,478.5 1032.3,476.1 1032.7,476.5 1033.0,474.5 1033.3,472.7 1033.6,471.8 1033.9,471.1 1034.2,471.5 1034.5,472.8 1034.9,473.6 1035.2,473.4 1035.5,474.2 1035.8,476.2 1036.1,479.4 1036.4,481.2 1036.7,484.3 1037.0,486.4 1037.3,484.1 1037.6,481.3 1037.9,478.7 1038.2,476.6 1038.5,474.2 1038.8,476.7 1039.1,479.7 1039.4,481.5 1039.7,483.2 1040.0,486.4 1040.3,485.4 1040.6,485.0 1040.9,483.6 1041.2,482.3 1041.4,481.3 1041.7,479.6 1042.0,478.6 1042.3,478.8 1042.6,477.2 1042.9,478.5 1043.2,480.9 1043.5,482.0 1043.8,483.4 1044.1,485.4 1044.3,494.1 1044.6,503.7 1044.9,504.9 1045.2,507.1 1045.6,508.9 1045.9,510.1 1046.2,511.8 1046.5,512.1 1046.8,510.9 1047.1,510.7 1047.4,510.9 1047.7,509.8 1048.0,506.9 1048.3,504.0 1048.6,502.2 1048.9,498.8 1049.2,496.6 1049.5,494.9 1049.8,493.1 1050.1,490.6 1050.3,488.6 1050.6,486.0 1050.9,484.1 1051.2,482.3 1051.5,483.6 1051.8,485.2 1052.2,486.2 1052.5,487.9 1052.8,489.4 1053.1,489.2 1053.4,490.4 1053.7,490.5 1053.9,491.2 1054.2,491.8 1054.5,492.1 1054.8,492.5 1055.0,486.1 1055.3,481.3 1055.6,480.6 1055.9,479.1 1056.2,478.4 1056.5,478.7 1056.8,477.2 1057.1,478.5 1057.4,478.9 1057.7,479.5 1058.0,480.9 1058.3,481.0 1058.6,483.1 1058.9,483.3 1059.2,483.2 1059.5,483.4 1059.8,483.0 1060.0,484.1 1060.3,483.2 1060.6,483.4 1060.9,483.3 1061.2,480.6 1061.5,478.6 1061.8,475.3 1062.1,474.0 1062.4,471.1 1062.7,470.7 1063.0,471.2 1063.3,470.2 1063.6,470.3 1063.8,468.8 1064.1,468.3 1064.4,469.2 1064.7,469.1 1065.0,468.0 1065.3,468.2 1065.6,468.1 1065.9,467.9 1066.1,467.5 1066.4,467.0 1066.7,467.0 1067.0,467.0 1067.3,464.0 1067.7,459.4 1068.0,456.8 1068.3,456.2 1068.6,455.7 1068.9,454.9 1069.2,454.7 1069.4,454.7 1069.7,453.7 1070.0,453.1 1070.3,452.6 1070.6,452.8 1070.8,455.0 1071.1,456.8 1071.4,455.9 1071.7,455.6 1072.0,454.0 1072.3,453.7 1072.7,452.9 1073.0,451.9 1073.3,451.0 1073.6,450.7 1073.9,450.4 1074.2,449.6 1074.6,447.7 1074.9,447.4 1075.2,446.7 1075.5,445.7 1075.8,445.6 1076.1,445.9 1076.3,444.7 1076.6,445.9 1076.9,444.2 1077.2,444.6 1077.5,442.1 1077.9,438.5 1078.2,436.5 1078.5,436.1 1078.8,436.6 1079.2,436.1 1079.5,435.8 1079.8,435.5 1080.1,437.2 1080.4,437.7 1080.7,438.6 1081.0,440.3 1081.3,440.5 1081.5,449.7 1081.8,459.9 1082.1,460.5 1082.4,459.9 1082.7,458.7 1083.0,459.3 1083.3,458.9 1083.6,457.6 1083.9,454.5 1084.2,452.6 1084.5,451.1 1084.8,449.7 1085.1,449.8 1085.4,450.8 1085.7,450.6 1086.0,451.2 1086.2,451.9 1086.5,452.0 1086.8,452.7 1087.1,452.5 1087.4,452.8 1087.7,460.1 1087.9,466.0 1088.2,465.8 1088.5,466.1 1088.8,466.5 1089.2,466.7 1089.5,468.0 1089.8,466.7 1090.1,467.5 1090.4,468.0 1090.7,470.6 1091.0,472.9 1091.3,474.2 1091.6,478.1 1091.9,479.2 1092.2,481.8 1092.5,484.3 1092.8,479.7 1093.2,475.3 1093.5,471.1 1093.8,468.3 1094.1,465.9 1094.4,462.4 1094.7,460.1 1095.0,456.8 1095.3,456.7 1095.6,456.4 1095.9,455.9 1096.2,454.9 1096.5,454.8 1096.8,454.0 1097.1,453.8 1097.3,466.8 1097.6,478.2 1097.9,476.5 1098.2,475.4 1098.5,474.8 1098.7,473.5 1099.0,471.9 1099.3,471.3 1099.6,470.1 1099.9,470.3 1100.2,471.2 1100.5,471.6 1100.7,471.5 1101.0,472.2 1101.3,471.1 1101.6,472.1 1101.9,478.5 1102.2,485.6 1102.4,491.8 1102.7,498.6 1103.0,495.4 1103.3,492.9 1103.6,490.3 1104.0,486.4 1104.3,483.9 1104.6,481.4 1104.9,478.9 1105.2,475.2 1105.5,483.9 1105.7,491.5 1106.0,486.1 1106.4,479.7 1106.7,473.1 1107.0,472.4 1107.3,471.4 1107.7,470.3 1108.0,469.7 1108.3,469.1 1108.6,469.5 1108.9,468.3 1109.2,468.7 1109.5,468.7 1109.8,468.8 1110.1,469.5 1110.4,468.3 1110.7,468.5 1111.0,469.3 1111.3,469.1 1111.6,471.9 1112.0,472.7 1112.3,475.2 1112.6,473.7 1112.8,472.7 1113.1,472.1 1113.4,471.1 1113.4,457.9 1113.7,457.5 1114.0,456.1 1114.3,454.3 1114.5,453.9 1114.8,452.9 1115.1,452.0 1115.4,450.7 1115.7,449.4 1116.1,447.5 1116.4,446.7 1116.7,446.5 1117.0,445.7 1117.3,445.4 1117.6,446.2 1118.0,446.3 1118.3,444.9 1118.6,445.5 1118.9,445.7 1119.2,445.2 1119.5,444.6 1119.8,442.1 1120.2,438.7 1120.5,435.5 1120.8,436.8 1121.1,436.3 1121.4,438.0 1121.7,438.0 1122.0,438.5 1122.3,440.3 1122.6,442.1 1122.9,442.8 1123.2,445.1 1123.5,446.7 1123.8,442.3 1124.1,437.5 1124.4,437.9 1124.7,437.2 1125.0,436.6 1125.3,436.2 1125.7,435.9 1126.0,436.8 1126.3,436.4 1126.6,435.5 1126.9,434.9 1127.2,435.2 1127.5,434.1 1127.7,434.3 1128.0,433.8 1128.3,433.5 1128.6,432.4 1128.9,432.6 1129.2,434.5 1129.5,434.6 1129.8,436.6 1130.1,437.1 1130.4,437.2 1130.7,438.5 1131.0,436.5 1131.4,434.5 1131.7,432.4 1132.0,433.7 1132.3,433.7 1132.6,434.6 1132.8,434.8 1133.1,435.3 1133.4,435.4 1133.7,436.5 1134.0,444.7 1134.2,452.8 1134.5,452.8 1134.8,452.3 1135.1,452.6 1135.4,452.0 1135.7,452.0 1136.0,451.2 1136.3,450.7 1136.6,446.3 1137.0,442.8 1137.3,438.5 1137.6,439.0 1137.9,438.9 1138.2,439.1 1138.4,438.8 1138.7,438.6 1139.0,438.7 1139.3,439.5 1139.6,441.3 1140.0,443.2 1140.3,444.6 1140.6,445.2 1140.9,446.7 1141.3,447.7 1141.6,450.0 1141.9,450.7 1142.2,449.9 1142.5,449.8 1142.8,449.8 1143.1,448.4 1143.4,448.7 1143.7,443.1 1143.9,436.5 1144.2,433.3 1144.6,429.8 1144.9,426.4 1145.2,425.5 1145.5,425.8 1145.8,425.3 1146.1,426.4 1146.4,424.9 1146.7,426.0 1147.0,425.1 1147.3,425.1 1147.6,425.0 1147.9,423.5 1148.2,421.1 1148.4,419.9 1148.7,418.7 1149.0,416.7 1149.3,416.4 1149.6,415.4 1149.9,415.5 1150.2,415.6 1150.5,414.7 1150.8,415.6 1151.1,415.1 1151.5,415.2 1151.8,414.7 1152.1,413.7 1152.4,414.6 1152.7,413.1 1153.0,412.7 1153.3,412.6 1153.6,412.4 1153.9,412.5 1154.2,413.5 1154.5,413.5 1154.7,414.3 1155.0,414.7 1155.3,415.3 1155.6,414.4 1155.9,413.6 1156.2,412.7 1156.5,411.2 1156.9,410.4 1157.2,409.3 1157.5,408.6 1157.8,408.2 1158.1,406.9 1158.4,409.9 1158.8,412.1 1159.1,414.7 1159.4,418.1 1159.7,419.1 1160.0,420.5 1160.3,421.3 1160.6,421.7 1160.9,423.2 1161.2,423.3 1161.5,425.0 1161.8,423.7 1162.1,423.7 1162.3,422.8 1162.6,423.4 1162.9,422.2 1163.2,420.4 1163.5,419.0 1163.8,418.3 1164.1,417.3 1164.5,415.8 1164.8,414.3 1165.1,413.6 1165.4,411.1 1165.7,410.4 1166.0,411.4 1166.3,411.2 1166.5,411.9 1166.8,412.5 1167.1,413.9 1167.4,420.2 1167.8,425.0 1168.1,425.0 1168.4,425.2 1168.7,425.9 1169.0,426.2 1169.3,426.8 1169.6,426.9 1169.9,427.8 1170.2,433.3 1170.6,440.3 1170.9,441.0 1171.2,441.9 1171.5,443.2 1171.7,443.7 1172.0,443.5 1172.3,444.3 1172.6,445.8 1172.9,443.5 1173.2,442.2 1173.5,439.2 1173.8,437.7 1174.1,435.6 1174.4,433.3 1174.7,430.6 1175.1,438.9 1175.4,447.2 1175.7,449.6 1176.0,450.3 1176.2,452.2 1176.5,454.1 1176.8,455.6 1177.1,457.9 1177.4,460.5 1177.6,463.8 1177.9,466.7 1178.2,469.4 1178.5,469.2 1178.8,470.0 1179.1,469.5 1179.4,470.5 1179.7,471.0 1180.0,471.0 1180.3,470.8 1180.6,468.9 1180.9,466.5 1181.2,463.8 1181.5,461.7 1181.8,458.8 1182.1,457.2 1182.4,454.2 1182.7,456.1 1183.0,458.1 1183.3,459.2 1183.5,461.6 1183.8,462.8 1184.1,465.5 1184.4,466.7 1184.7,464.4 1185.0,462.5 1185.3,460.5 1185.6,457.6 1186.0,455.1 1186.3,454.3 1186.6,450.7 1186.9,449.0 1187.2,447.2 1187.5,449.1 1187.8,451.7 1188.1,455.1 1188.4,457.6 1188.7,459.4 1189.0,462.1 1189.3,465.3 1189.7,466.0 1190.0,468.1 1190.3,467.4 1190.6,466.9 1190.9,465.1 1191.2,464.9 1191.6,462.7 1191.9,463.1 1192.2,460.8 1192.5,461.1 1192.8,459.7 1193.1,462.2 1193.4,465.2 1193.7,469.4 1194.0,471.6 1194.3,475.0 1194.6,477.0 1194.9,480.6 1195.2,476.9 1195.5,472.5 1195.8,469.2 1196.0,465.8 1196.3,461.4 1196.6,458.6 1196.9,454.2 1197.2,454.3 1197.5,452.8 1197.8,453.2 1198.1,452.7 1198.4,452.5 1198.7,452.6 1199.0,451.4 1199.3,449.9 1199.6,448.7 1199.9,447.0 1200.2,446.8 1200.5,444.7 1200.8,444.4 1201.1,443.1 1201.4,445.7 1201.7,447.5 1201.9,449.5 1202.2,450.1 1202.5,452.8 1202.8,453.5 1203.1,454.0 1203.4,455.0 1203.7,455.1 1204.1,456.5 1204.4,456.3 1204.7,456.7 1205.0,457.1 1205.3,458.3 1205.6,461.1 1205.9,465.7 1206.1,468.4 1206.4,471.8 1206.7,475.0 1207.0,473.2 1207.3,470.3 1207.6,469.1 1207.9,467.4 1208.2,464.4 1208.5,463.5 1208.8,461.1 1209.1,468.8 1209.4,475.0 1209.7,475.1 1210.0,476.2 1210.3,477.5 1210.6,477.6 1210.9,478.7 1211.2,479.8 1211.5,480.6 1211.8,483.9 1212.1,486.9 1212.3,489.2 1212.6,491.7 1212.9,494.4 1213.2,494.8 1213.5,495.0 1213.8,496.8 1214.1,496.4 1214.5,497.7 1214.8,497.9 1215.1,499.2 1215.4,499.4 1215.7,500.0 1216.0,501.8 1216.3,502.9 1216.6,504.6 1216.9,505.3 1217.2,506.6 1217.5,507.9 1217.8,509.7 1218.1,512.4 1218.4,513.6 1218.7,514.9 1219.0,517.4 1219.3,520.4 1219.6,521.6 1219.9,523.6 1220.2,519.6 1220.5,516.0 1220.8,513.4 1221.0,508.5 1221.3,506.0 1221.6,502.9 1221.9,498.6 1222.2,501.8 1222.5,506.1 1222.7,508.8 1223.0,512.4 1223.3,516.7 1223.6,511.6 1223.9,507.6 1224.2,502.0 1224.5,497.7 1224.9,492.8 1225.2,489.3 1225.5,484.7 1225.8,479.9 1226.1,475.0 1226.4,476.3 1226.7,475.9 1227.0,478.0 1227.3,477.4 1227.7,478.9 1228.0,480.0 1228.3,480.5 1228.6,481.1 1228.9,481.9 1229.2,486.0 1229.5,491.5 1229.7,496.6 1230.0,501.5 1230.3,505.6 1230.6,502.8 1230.9,498.5 1231.1,494.9 1231.4,492.0 1231.7,488.9 1232.0,491.8 1232.3,495.2 1232.5,498.7 1232.8,502.9 1233.1,505.6 1233.4,504.6 1233.7,505.0 1234.0,503.5 1234.3,503.0 1234.6,502.9 1234.9,502.5 1235.2,500.8 1235.5,500.0 1235.8,500.0 1236.1,502.3 1236.4,505.8 1236.7,508.8 1237.0,511.9 1237.3,515.4 1237.6,518.1 1237.9,520.8 1238.2,526.3 1238.6,530.6 1238.9,529.5 1239.2,528.8 1239.5,526.7 1239.8,525.2 1240.2,524.7 1240.5,522.8 1240.8,521.8 1241.1,521.4 1241.4,519.4 1241.7,522.7 1242.0,524.3 1242.3,527.3 1242.6,529.3 1243.0,532.9 1243.3,535.1 1243.6,537.9 1243.9,540.2 1244.2,543.1 1244.5,540.5 1244.8,538.6 1245.0,536.0 1245.3,533.6 1245.6,530.6 1245.9,527.8 1246.2,526.3 1246.5,523.3 1246.7,522.3 1247.0,519.2 1247.3,518.1 1247.6,515.3 1247.9,504.3 1248.3,494.4 1248.6,493.6 1248.9,493.6 1249.2,492.8 1249.5,491.4 1249.8,490.5 1250.1,489.9 1250.4,488.9 1250.8,494.6 1251.1,500.0 1251.4,497.9 1251.7,496.0 1252.0,493.1 1252.3,489.7 1252.6,488.5 1252.9,485.6 1253.2,483.3 1253.5,484.4 1253.8,485.2 1254.1,486.8 1254.4,487.1 1254.7,487.7 1255.0,489.9 1255.3,490.3 1255.6,493.9 1255.9,495.3 1256.2,497.9 1256.5,502.0 1256.9,504.8 1257.2,506.6 1257.5,510.2 1257.8,511.9 1258.1,515.3 1258.4,512.8 1258.7,508.8 1259.0,505.7 1259.2,504.0 1259.5,500.9 1259.8,497.1 1260.1,494.4 1260.4,496.5 1260.7,499.4 1261.0,501.3 1261.3,504.2 1261.6,507.0 1261.9,508.6 1262.2,511.1 1262.5,508.8 1262.8,505.7 1263.1,502.4 1263.4,500.3 1263.8,497.8 1264.1,493.9 1264.4,491.9 1264.7,488.8 1265.0,486.1 1265.3,484.8 1265.6,485.3 1265.9,484.8 1266.2,483.3 1266.5,482.5 1266.8,482.3 1267.1,481.9 1267.4,474.6 1267.8,466.7 1268.1,465.1 1268.4,464.4 1268.7,464.1 1269.0,461.7 1269.4,461.0 1269.7,460.5 1270.0,458.7 1270.3,458.5 1270.6,456.9 1270.9,461.1 1271.2,466.2 1271.6,471.6 1271.9,476.4 1272.2,472.2 1272.5,468.3 1272.7,464.2 1273.0,461.4 1273.3,456.9 1273.6,458.7 1273.9,461.6 1274.2,463.6 1274.5,466.1 1274.8,468.6 1275.1,471.4 1275.4,473.6 1275.7,471.5 1276.0,468.5 1276.2,464.5 1276.5,461.7 1276.8,459.7 1277.1,461.7 1277.4,463.4 1277.7,465.5 1278.0,467.4 1278.3,468.9 1278.6,476.8 1278.9,483.3 1279.2,482.1 1279.5,480.6 1279.8,479.2 1280.0,479.5 1280.3,477.5 1280.6,476.7 1280.8,484.2 1281.1,491.1 1281.4,489.3 1281.7,488.3 1281.9,487.0 1282.2,485.5 1282.5,483.5 1282.8,482.2 1282.8,504.4 1283.1,505.4 1283.4,508.5 1283.8,509.4 1284.1,510.8 1284.4,513.3 1284.7,510.0 1285.0,507.3 1285.3,505.7 1285.6,502.2 1285.9,501.0 1286.2,500.2 1286.6,499.0 1286.9,497.4 1287.2,496.7 1287.5,502.7 1287.8,508.7 1288.0,516.6 1288.3,522.2 1288.6,522.3 1288.9,523.4 1289.2,524.1 1289.4,524.0 1289.7,524.9 1290.0,524.9 1290.3,525.8 1290.6,526.7 1290.9,522.9 1291.2,518.6 1291.4,513.1 1291.7,508.9 1292.0,505.9 1292.3,503.7 1292.7,502.4 1293.0,500.6 1293.3,497.8 1293.6,494.7 1293.8,491.0 1294.1,487.2 1294.4,484.4 1294.7,487.4 1295.0,488.7 1295.2,490.7 1295.5,493.6 1295.8,495.2 1296.1,497.8 1296.4,494.6 1296.7,491.8 1296.9,489.0 1297.2,486.1 1297.5,483.9 1297.8,481.1 1298.1,483.5 1298.4,485.7 1298.8,488.4 1299.1,491.8 1299.4,494.4 1299.7,494.1 1300.0,494.4 1300.3,494.9 1300.6,495.6 1300.8,485.2 1301.1,473.3 1301.4,473.4 1301.7,472.6 1301.9,471.2 1302.2,471.3 1302.5,470.3 1302.8,470.0 1303.1,472.2 1303.4,475.3 1303.8,476.8 1304.1,480.1 1304.4,482.2 1304.7,483.9 1305.0,486.3 1305.3,487.2 1305.6,488.9 1305.9,486.2 1306.2,484.1 1306.6,481.0 1306.9,479.4 1307.2,476.7 1307.5,478.3 1307.8,479.3 1308.1,479.3 1308.3,480.9 1308.6,482.4 1308.9,483.3 1309.2,480.8 1309.5,480.0 1309.8,477.5 1310.0,475.9 1310.3,473.1 1310.6,471.1 1310.9,471.7 1311.2,471.7 1311.5,472.3 1311.9,472.0 1312.2,472.6 1312.5,473.6 1312.8,473.3 1313.1,473.8 1313.4,473.6 1313.8,474.5 1314.1,475.8 1314.4,475.6 1314.7,478.6 1315.0,480.6 1315.3,483.9 1315.6,486.7 1315.9,489.1 1316.2,490.4 1316.6,492.6 1316.9,493.5 1317.2,495.6 1317.5,491.5 1317.8,488.2 1318.1,485.8 1318.3,482.4 1318.6,479.5 1318.9,475.6 1319.2,474.3 1319.5,474.4 1319.8,473.3 1320.0,471.7 1320.3,471.6 1320.6,470.0 1320.9,472.6 1321.2,476.2 1321.6,480.2 1321.9,483.1 1322.2,486.7 1322.5,484.6 1322.8,483.3 1323.1,481.5 1323.5,479.3 1323.8,477.0 1324.1,475.9 1324.4,473.3 1324.7,475.0 1325.0,477.1 1325.3,480.5 1325.6,482.2 1325.9,482.0 1326.2,481.3 1326.5,480.6 1326.9,479.5 1327.2,478.8 1327.5,478.8 1327.8,477.8 1328.1,480.3 1328.4,482.8 1328.8,485.5 1329.1,489.0 1329.4,491.1 1329.7,488.9 1330.0,487.0 1330.3,483.7 1330.6,482.2 1330.9,482.5 1331.2,481.6 1331.5,481.0 1331.8,480.5 1332.1,480.9 1332.4,480.1 1332.7,480.8 1333.0,480.2 1333.3,480.0 1333.6,475.6 1333.9,470.0 1334.2,470.2 1334.5,469.6 1334.8,468.8 1335.2,469.7 1335.5,469.0 1335.8,469.5 1336.1,468.9 1336.4,470.9 1336.7,474.4 1337.0,466.8 1337.2,458.9 1337.5,456.1 1337.8,453.9 1338.0,450.9 1338.3,447.8 1338.6,450.2 1338.8,453.2 1339.1,455.6 1339.4,457.8 1339.7,457.1 1340.0,457.6 1340.2,457.7 1340.5,457.7 1340.8,456.5 1341.1,456.7 1341.4,455.5 1341.7,454.2 1341.9,453.1 1342.2,452.7 1342.5,451.0 1342.8,450.0 1343.0,443.7 1343.3,438.9 1343.6,439.8 1343.9,440.2 1344.2,440.1 1344.4,440.7 1344.7,440.4 1345.0,440.8 1345.3,441.5 1345.6,441.1 1345.9,441.2 1346.2,440.0 1346.6,439.9 1346.9,437.7 1347.2,437.8 1347.5,440.7 1347.8,443.4 1348.1,446.8 1348.3,450.6 1348.6,452.8 1348.9,456.7 1349.2,453.0 1349.5,450.2 1349.7,446.2 1350.0,443.3 1350.3,444.4 1350.6,446.9 1350.8,447.2 1351.1,449.2 1351.4,450.2 1351.7,452.2 1352.0,450.7 1352.3,447.2 1352.7,445.3 1353.0,442.9 1353.3,441.1 1353.6,441.5 1353.9,443.8 1354.2,444.9 1354.4,445.8 1354.7,446.7 1355.0,447.3 1355.3,448.7 1355.6,450.0 1355.9,446.6 1356.2,442.5 1356.4,439.3 1356.7,435.6 1357.0,438.8 1357.3,440.9 1357.7,442.6 1358.0,444.8 1358.3,447.8 1358.6,446.8 1358.9,445.5 1359.2,442.9 1359.4,441.8 1359.7,439.8 1360.0,438.9 1360.3,440.3 1360.6,442.5 1360.8,444.2 1361.1,446.7 1361.4,447.6 1361.7,450.0 1362.0,449.0 1362.3,447.1 1362.7,445.7 1363.0,443.9 1363.3,443.3 1363.6,445.3 1363.8,447.8 1364.1,450.9 1364.4,453.3 1364.7,452.1 1365.0,450.9 1365.3,450.7 1365.6,449.2 1366.0,448.4 1366.3,446.7 1366.6,445.4 1366.9,444.9 1367.2,443.3 1367.2,460.0 1367.5,460.1 1367.8,462.4 1368.0,462.4 1368.3,463.3 1368.3,470.0 1368.6,470.9 1368.9,471.9 1369.2,472.6 1369.4,473.5 1369.7,475.2 1370.0,475.6 1370.3,474.4 1370.5,471.9 1370.8,471.0 1371.1,468.9 1371.4,471.9 1371.7,473.8 1371.9,475.4 1372.2,477.8 1372.5,479.7 1372.8,482.2 1373.1,479.9 1373.4,478.8 1373.8,476.9 1374.1,474.8 1374.4,473.3 1374.7,474.7 1375.0,476.1 1375.2,477.7 1375.5,478.8 1375.8,480.7 1376.1,482.2 1376.4,479.1 1376.7,476.9 1376.9,475.3 1377.2,472.2 1377.5,471.2 1377.8,470.0 1378.1,469.6 1378.3,468.6 1378.6,469.2 1378.9,467.8 1379.2,469.6 1379.5,472.9 1379.7,475.4 1380.0,477.8 1380.3,478.3 1380.6,479.0 1380.9,478.2 1381.3,478.5 1381.6,479.6 1381.9,479.8 1382.2,480.0 1382.5,477.3 1382.8,474.5 1383.0,471.5 1383.3,467.8 1383.6,470.7 1383.9,473.8 1384.2,476.6 1384.4,479.8 1384.7,484.2 1385.0,486.7 1385.3,486.7 1385.6,486.1 1385.8,485.1 1386.1,484.5 1386.4,484.7 1386.7,484.4 1387.0,482.4 1387.2,480.4 1387.5,479.3 1387.8,477.8 1388.1,476.7 1388.4,476.2 1388.8,474.3 1389.1,473.3 1389.4,472.2 1389.7,473.8 1390.0,474.4 1390.2,476.8 1390.5,477.0 1390.8,477.9 1391.1,480.0 1391.4,476.1 1391.7,472.8 1391.9,468.8 1392.2,465.6 1392.5,468.0 1392.8,470.2 1393.1,472.9 1393.3,475.4 1393.6,478.1 1393.9,480.0 1394.2,477.8 1394.5,477.2 1394.8,474.8 1395.0,474.0 1395.3,473.0 1395.6,471.1 1395.9,471.0 1396.2,472.0 1396.5,471.1 1396.9,471.2 1397.2,472.2 1397.5,472.1 1397.8,472.2 1398.1,473.7 1398.4,475.1 1398.8,476.4 1399.1,478.5 1399.4,480.0 1399.7,478.2 1400.0,475.9 1400.2,473.9 1400.5,472.8 1400.8,470.5 1401.1,468.9 1401.4,470.3 1401.7,470.6 1402.0,471.1 1402.4,472.2 1402.7,473.3 1403.0,474.6 1403.3,475.6 1403.6,475.7 1403.9,474.9 1404.2,474.6 1404.4,475.5 1404.7,474.5 1405.0,474.4 1405.3,476.9 1405.5,478.3 1405.8,480.3 1406.1,483.3 1406.4,482.0 1406.7,482.6 1407.0,482.6 1407.4,481.2 1407.7,481.4 1408.0,480.6 1408.3,480.0 1408.6,481.8 1408.9,481.9 1409.2,483.5 1409.4,484.5 1409.7,485.7 1410.0,487.8 1410.3,486.0 1410.7,484.6 1411.0,481.6 1411.3,480.2 1411.6,481.1 1411.9,482.3 1412.2,483.4 1412.6,483.9 1412.9,484.4 1413.2,485.4 1413.6,494.3 1413.9,502.2 1414.2,501.8 1414.6,500.6 1414.9,500.3 1415.2,499.6 1415.2,510.0 1415.5,511.5 1415.8,512.4 1416.2,513.4 1416.5,514.6 1416.8,516.3 1417.1,517.8 1417.4,516.2 1417.8,514.0 1418.1,511.2 1418.4,508.7 1418.7,510.0 1419.1,510.6 1419.4,510.9 1419.7,512.6 1420.1,505.0 1420.4,498.3 1420.7,497.6 1421.0,496.9 1421.3,497.0 1421.7,495.5 1422.0,494.6 1422.3,494.4 1422.7,501.8 1423.0,510.0 1423.3,508.7 1423.7,507.1 1424.0,504.5 1424.3,503.5 1424.6,503.3 1424.9,503.9 1425.2,505.4 1425.5,505.2 1425.7,506.2 1426.0,506.1 1426.3,506.6 1426.6,506.6 1426.9,507.4 1427.2,509.8 1427.5,513.3 1427.8,515.8 1428.1,517.8 1428.4,526.7 1428.8,534.6 1429.1,532.7 1429.4,531.4 1429.8,529.5 1430.1,526.5 1430.4,525.2 1430.7,523.0 1431.0,524.6 1431.3,525.4 1431.6,526.8 1431.8,528.0 1432.1,528.5 1432.4,528.9 1432.7,530.7 1433.0,523.7 1433.3,515.2 1433.6,514.0 1433.9,513.1 1434.3,512.8 1434.6,511.3 1434.9,514.4 1435.2,517.2 1435.6,519.6 1435.9,523.0 1436.2,522.7 1436.5,522.0 1436.8,520.5 1437.0,519.9 1437.3,519.7 1437.6,519.3 1437.9,517.8 1438.2,509.9 1438.5,503.5 1438.8,502.0 1439.1,501.8 1439.4,500.2 1439.6,499.2 1439.9,498.6 1440.2,498.7 1440.5,497.0 1440.8,497.2 1441.2,497.1 1441.5,496.7 1441.8,495.7 1442.1,495.9 1442.4,498.2 1442.8,498.9 1443.1,498.6 1443.4,500.5 1443.7,500.9 1444.0,504.8 1444.3,509.9 1444.7,513.9 1445.0,517.8 1445.3,518.4 1445.6,518.5 1446.0,518.1 1446.3,517.4 1446.6,518.0 1446.9,517.8 1447.2,507.0 1447.6,497.0 1447.9,496.0 1448.2,496.3 1448.5,495.6 1448.9,496.9 1449.2,495.8 1449.5,495.7 1449.8,495.6 1450.1,495.9 1450.4,495.6 1450.7,496.3 1450.9,496.3 1451.2,496.5 1451.5,495.4 1451.8,495.3 1452.1,495.7 1452.4,499.5 1452.8,503.5 1453.1,504.0 1453.4,503.6 1453.8,504.4 1454.1,504.5 1454.4,504.5 1454.7,504.8 1454.4,510.9 1454.1,517.8 1454.4,515.8 1454.7,514.5 1455.0,514.5 1455.4,513.0 1455.7,510.5 1456.0,510.0 1456.3,521.1 1456.7,533.3 1457.0,529.0 1457.3,525.3 1457.7,522.2 1458.0,518.9 1458.3,515.2 1458.6,511.3 1458.9,512.4 1459.2,512.1 1459.5,513.4 1459.7,514.3 1460.0,514.4 1460.3,515.2 1460.6,515.2 1460.9,528.7 1461.2,543.7 1461.6,572.2 1461.9,557.1 1462.2,542.3 1462.5,528.2 1462.8,529.0 1463.1,530.0 1463.5,531.5 1463.8,532.3 1464.1,532.1 1464.4,533.3 1464.7,535.8 1465.1,537.1 1465.4,540.8 1465.7,542.4 1466.0,539.4 1466.3,538.0 1466.7,535.3 1467.0,532.0 1467.3,531.9 1467.6,531.9 1467.9,531.8 1468.1,532.8 1468.4,533.5 1468.7,533.0 1469.0,533.3 1469.3,535.8 1469.7,539.9 1470.0,542.6 1470.3,546.3 1470.6,546.6 1470.9,545.7 1471.2,545.4 1471.6,544.0 1471.9,543.4 1472.2,543.7 1472.2,525.6 1472.5,523.3 1472.8,520.6 1473.2,518.9 1473.5,516.5 1473.8,520.5 1474.2,523.4 1474.5,526.1 1474.8,529.4 1475.1,527.3 1475.4,526.6 1475.7,524.5 1475.9,523.3 1476.2,520.4 1476.5,519.8 1476.8,517.8 1477.1,518.3 1477.4,519.5 1477.8,519.7 1478.1,521.5 1478.4,522.3 1478.7,523.0 1479.0,521.9 1479.3,522.4 1479.6,522.0 1479.8,521.4 1480.1,520.4 1480.4,519.9 1480.7,519.1 1481.0,515.1 1481.3,510.7 1481.6,510.2 1481.9,510.3 1482.2,510.2 1482.5,510.5 1482.7,511.3 1483.0,511.4 1483.3,510.9 1483.6,511.1 1483.9,511.3 1484.2,511.1 1484.5,512.1 1484.8,511.7 1485.1,513.1 1485.4,513.0 1485.6,512.8 1485.9,514.0 1486.2,514.4 1486.5,514.1 1486.8,514.9 1487.1,515.2 1487.4,504.8 1487.8,495.7 1488.1,495.3 1488.4,495.4 1488.8,494.8 1489.1,494.3 1489.4,494.2 1489.7,494.4 1490.0,492.9 1490.3,489.8 1490.7,488.4 1491.0,486.7 1491.3,485.0 1491.6,484.0 1491.9,482.7 1492.1,480.7 1492.4,480.5 1492.7,478.3 1493.0,477.6 1493.3,475.8 1493.6,476.1 1494.0,473.7 1494.3,472.7 1494.6,472.7 1494.9,471.1 1495.2,469.5 1495.6,467.9 1495.9,465.9 1496.2,463.3 1496.5,461.3 1496.8,460.3 1497.1,458.8 1497.4,457.1 1497.6,455.4 1497.9,455.3 1498.2,453.6 1498.5,451.4 1498.8,450.4 1499.1,450.5 1499.4,452.6 1499.8,452.4 1500.1,453.9 1500.4,455.5 1500.7,455.6 1501.0,458.1 1501.3,460.3 1501.7,463.0 1502.0,465.9 1502.3,462.3 1502.7,457.4 1503.0,453.6 1503.3,450.4 1503.6,452.1 1503.9,452.9 1504.2,454.5 1504.4,454.6 1504.7,455.5 1505.0,457.1 1505.3,458.1 1505.6,462.5 1505.9,465.7 1506.3,469.9 1506.6,473.7 1506.9,473.3 1507.2,474.2 1507.5,475.4 1507.9,475.9 1508.2,476.0 1508.5,476.3 1508.8,473.3 1509.2,468.8 1509.5,465.0 1509.8,462.0 1510.1,463.7 1510.4,465.8 1510.7,468.2 1510.9,470.0 1511.2,470.7 1511.5,473.7 1511.8,475.0 1512.1,481.6 1512.4,486.7 1512.7,486.3 1513.0,485.2 1513.3,484.5 1513.6,485.0 1513.8,484.4 1514.1,482.5 1514.4,482.1 1514.7,481.5 1515.0,481.5 1515.3,479.4 1515.6,478.7 1515.9,476.7 1516.1,475.0 1516.4,473.8 1516.7,472.0 1517.0,471.1 1517.3,471.1 1517.6,469.7 1517.9,469.8 1518.2,468.4 1518.6,468.3 1518.9,467.8 1519.2,467.4 1519.5,467.2 1519.8,469.2 1520.1,471.1 1520.4,472.1 1520.6,473.7 1520.9,475.0 1521.2,476.8 1521.5,478.9 1521.8,480.2 1522.2,480.1 1522.5,481.6 1522.8,481.5 1523.1,476.8 1523.4,473.5 1523.8,470.3 1524.1,465.9 1524.4,466.4 1524.7,466.6 1525.0,467.0 1525.3,467.0 1525.5,467.6 1525.8,468.9 1526.1,469.3 1526.4,469.3 1526.7,469.8 1527.0,476.6 1527.3,482.8 1527.6,482.5 1527.9,481.8 1528.2,481.3 1528.5,480.4 1528.7,480.6 1529.0,480.0 1529.3,479.7 1529.6,479.9 1529.9,478.9 1530.2,482.5 1530.6,485.9 1530.9,487.9 1531.2,491.9 1531.5,492.1 1531.8,490.4 1532.1,490.3 1532.4,489.2 1532.6,488.8 1532.9,488.7 1533.2,488.2 1533.5,487.9 1533.8,486.7 1534.2,494.3 1534.5,502.2 1534.8,503.7 1535.1,503.6 1535.5,505.0 1535.8,506.9 1536.1,508.1 1536.4,508.7 1536.7,506.4 1537.0,504.8 1537.3,502.6 1537.7,499.9 1538.0,497.7 1538.3,495.7 1538.6,497.5 1538.9,498.2 1539.2,499.6 1539.4,499.6 1539.7,500.9 1540.0,502.9 1540.3,503.5 1540.6,505.3 1540.9,506.7 1541.2,509.7 1541.6,511.6 1541.9,512.9 1542.2,515.2 1542.5,516.2 1542.8,516.6 1543.1,517.6 1543.3,517.5 1543.6,518.6 1543.9,519.7 1544.2,520.4 1544.5,517.9 1544.8,514.6 1545.2,511.5 1545.5,507.6 1545.8,505.0 1546.1,502.2 1546.4,503.9 1546.7,505.9 1547.0,507.0 1547.2,508.0 1547.5,509.4 1547.8,510.5 1548.1,512.6 1548.4,513.3 1548.7,513.9 1549.0,514.6 1549.4,514.1 1549.7,514.0 1550.0,515.2 1550.3,513.8 1550.6,512.5 1550.9,510.5 1551.1,510.5 1551.4,508.6 1551.7,507.5 1552.0,506.1 1552.3,507.8 1552.6,509.4 1553.0,509.6 1553.3,512.0 1553.6,511.9 1553.9,513.9 1554.2,515.4 1554.5,516.1 1554.8,516.8 1555.2,518.2 1555.5,519.1 1555.8,520.4 1556.1,518.9 1556.4,518.2 1556.7,517.9 1556.9,516.5 1557.2,516.3 1557.5,514.9 1557.8,513.9 1558.1,515.6 1558.4,518.3 1558.8,519.3 1559.1,521.9 1559.4,524.2 1559.7,523.9 1560.0,521.6 1560.3,521.6 1560.6,519.6 1560.9,518.8 1561.2,518.9 1561.5,516.8 1561.8,516.3 1562.1,516.9 1562.4,517.6 1562.7,518.3 1563.0,518.1 1563.3,519.5 1563.6,520.5 1563.9,520.9 1564.2,521.0 1564.5,528.7 1564.7,535.0 1565.0,543.1 1565.3,544.1 1565.6,543.7 1565.9,545.5 1566.2,546.2 1566.5,546.2 1566.8,538.9 1567.0,532.1 1567.3,525.7 1567.6,525.4 1567.9,526.8 1568.2,525.9 1568.5,526.7 1568.8,526.3 1569.1,526.1 1569.4,526.7 1569.7,527.3 1569.7,541.5 1570.0,541.0 1570.3,539.6 1570.7,538.1 1571.0,537.1 1571.3,536.8 1571.7,549.8 1572.0,563.5 1572.3,561.8 1572.6,560.9 1573.0,559.6 1573.3,557.7 1573.6,557.2 1573.9,560.7 1574.2,563.4 1574.6,566.5 1574.9,570.1 1575.2,573.0 1575.5,570.8 1575.8,567.2 1576.2,564.9 1576.5,563.5 1576.8,560.4 1577.2,551.8 1577.5,543.1 1577.8,545.6 1578.1,547.3 1578.5,549.0 1578.8,551.2 1579.1,554.1 1579.4,560.2 1579.6,566.8 1579.9,573.0 1580.2,574.0 1580.5,575.2 1580.8,575.6 1581.1,577.1 1581.4,577.6 1581.7,578.5 1582.0,579.2 1582.3,580.8 1582.6,583.7 1582.9,586.7 1583.2,588.8 1583.5,592.1 1583.8,595.0 1584.1,591.7 1584.4,588.9 1584.8,585.9 1585.1,581.8 1585.4,579.3 1585.7,579.7 1586.0,579.9 1586.3,578.7 1586.6,579.2 1586.9,579.6 1587.2,578.9 1587.5,578.7 1587.8,579.3 1588.1,585.8 1588.3,590.2 1588.6,596.6 1588.9,597.4 1589.2,597.3 1589.5,598.0 1589.8,599.5 1590.0,599.9 1590.3,599.6 1590.6,600.9 1590.9,601.3 1590.9,610.7 1591.2,617.0 1591.4,623.2 1591.7,629.6 1592.0,630.1 1592.3,631.6 1592.7,633.2 1593.0,633.5 1593.3,634.4 1593.6,634.4 1593.9,636.2 1594.2,635.5 1594.4,636.6 1594.7,637.3 1595.0,637.2 1595.3,638.3 1595.6,639.1 1595.2,650.2 1594.9,662.7 1595.2,660.1 1595.5,659.0 1595.8,657.1 1596.1,656.3 1596.3,653.0 1596.6,652.1 1596.9,650.4 1597.2,648.5 1597.5,652.1 1597.8,654.5 1598.2,657.3 1598.5,659.2 1598.8,662.7 1599.1,660.8 1599.4,658.9 1599.8,655.6 1600.1,654.1 1600.4,651.7 1600.7,640.8 1600.9,629.9 1601.2,620.2 1601.5,614.2 1601.8,608.7 1602.1,602.6 1602.4,597.9 1602.7,591.9 1603.0,596.8 1603.3,600.8 1603.7,604.6 1604.0,609.8 1604.3,613.9 1604.3,579.3 1604.6,580.4 1604.9,580.6 1605.2,581.2 1605.5,580.1 1605.8,580.7 1606.1,582.3 1606.4,581.5 1606.7,582.4 1607.0,577.6 1607.2,574.7 1607.5,569.8 1607.8,568.8 1608.1,566.5 1608.4,566.0 1608.7,565.2 1609.0,563.5 1609.3,558.0 1609.5,552.5 1609.8,547.8 1610.1,546.4 1610.4,547.0 1610.7,545.1 1611.0,544.6 1611.3,543.5 1611.6,543.0 1611.9,542.0 1612.2,541.5 1612.5,540.1 1612.8,539.0 1613.1,538.9 1613.3,537.7 1613.6,535.6 1613.9,535.4 1614.2,533.4 1614.5,532.8 1614.2,542.0 1614.0,550.6 1613.7,558.8 1614.0,559.5 1614.3,559.4 1614.6,559.3 1614.9,560.2 1615.2,561.0 1615.5,561.6 1615.8,561.4 1616.1,561.9 1616.1,582.4 1616.4,584.6 1616.7,586.3 1617.1,588.3 1617.4,590.4 1617.7,593.4 1618.0,589.7 1618.3,587.1 1618.6,583.7 1618.8,580.8 1619.1,578.2 1619.4,575.0 1619.7,570.9 1620.0,568.2 1620.3,575.2 1620.5,582.0 1620.8,588.7 1621.1,587.6 1621.4,587.3 1621.7,586.3 1622.0,584.6 1622.3,583.6 1622.5,583.7 1622.8,582.4 1623.1,581.6 1623.4,581.4 1623.7,580.9 1624.0,579.3 1624.3,585.6 1624.5,591.5 1624.8,596.6 1625.1,598.9 1625.4,599.3 1625.7,602.0 1626.0,602.9 1626.3,604.4 1626.6,603.3 1626.9,603.3 1627.2,603.8 1627.5,602.4 1627.8,601.9 1628.1,601.4 1628.4,601.0 1628.7,601.3 1629.0,597.5 1629.2,592.4 1629.5,588.7 1629.8,588.7 1630.1,587.0 1630.4,586.3 1630.7,585.4 1631.0,584.7 1631.3,584.3 1631.6,582.8 1631.9,582.4 1632.2,572.7 1632.6,563.5 1632.9,563.3 1633.2,563.6 1633.5,564.1 1633.8,563.4 1634.1,564.1 1634.3,563.1 1634.6,564.2 1634.9,563.3 1635.2,563.3 1635.5,563.8 1635.8,563.5 1635.8,588.7 1636.1,585.3 1636.4,580.9 1636.7,576.2 1636.9,573.3 1637.2,569.6 1637.5,564.9 1637.8,560.5 1638.1,557.2 1638.4,562.2 1638.7,567.2 1639.1,573.6 1639.4,578.8 1639.7,584.0 1640.0,586.5 1640.3,588.3 1640.6,591.4 1640.9,593.2 1641.2,595.3 1641.5,598.8 1641.8,600.2 1642.1,602.9 1642.4,601.4 1642.7,600.7 1643.0,599.2 1643.2,596.8 1643.5,596.4 1643.8,595.3 1644.1,593.9 1644.4,591.9 1644.7,595.0 1645.0,596.3 1645.4,600.1 1645.7,602.7 1646.0,604.4 1646.3,602.9 1646.6,600.3 1647.0,599.2 1647.3,596.2 1647.6,595.0 1647.9,603.3 1648.1,610.9 1648.4,618.6 1648.7,617.5 1649.0,615.7 1649.3,613.0 1649.6,611.0 1649.8,610.3 1650.1,607.4 1650.4,606.3 1650.7,604.4 1651.0,606.0 1651.3,609.4 1651.7,610.8 1652.0,613.8 1652.3,615.5 1652.6,602.8 1652.8,590.4 1653.1,577.7 1653.4,577.5 1653.7,577.3 1654.0,576.4 1654.3,576.1 1654.6,576.9 1654.8,575.2 1655.1,576.4 1655.4,575.8 1655.7,575.4 1656.0,574.6 1656.3,574.5 1656.6,578.0 1656.9,582.7 1657.2,585.1 1657.5,590.4 1657.8,593.4 1658.1,590.9 1658.4,588.8 1658.7,585.1 1659.0,583.3 1659.3,580.9 1659.6,578.5 1659.9,575.9 1660.2,573.0 1660.5,572.6 1660.8,572.5 1661.2,573.2 1661.5,572.3 1661.8,573.0 1662.1,578.7 1662.4,585.0 1662.7,591.5 1663.0,597.9 1663.3,604.4 1663.6,603.0 1663.9,602.2 1664.2,601.6 1664.5,599.5 1664.8,598.6 1665.1,598.1 1665.4,596.0 1665.7,595.0 1666.0,594.5 1666.3,594.5 1666.7,592.6 1667.0,592.5 1667.3,591.9 1667.6,593.1 1667.9,593.9 1668.2,595.8 1668.4,597.3 1668.7,598.5 1669.0,598.4 1669.3,600.4 1669.6,601.3 1669.9,600.6 1670.2,597.8 1670.5,597.0 1670.8,596.4 1671.1,594.2 1671.4,592.8 1671.7,592.2 1672.0,590.3 1672.3,589.2 1672.5,587.8 1672.8,587.1 1673.1,589.3 1673.4,591.6 1673.8,592.9 1674.1,595.6 1674.4,598.1 1674.7,600.6 1675.0,602.9 1675.3,604.5 1675.6,607.0 1675.9,609.2 1676.2,614.0 1676.5,619.9 1676.9,624.9 1677.2,630.2 1677.5,635.9 1677.8,632.6 1678.1,627.7 1678.5,625.0 1678.8,620.1 1679.1,617.0 1679.4,619.7 1679.7,621.4 1679.9,624.3 1680.2,627.2 1680.5,629.2 1680.8,624.7 1681.1,619.4 1681.4,614.9 1681.7,610.1 1682.0,606.3 1682.3,609.2 1682.6,611.9 1682.9,613.5 1683.2,616.3 1683.5,618.9 1683.8,619.7 1684.1,619.1 1684.4,619.4 1684.7,618.5 1685.0,618.9 1685.3,620.5 1685.6,621.7 1685.9,624.2 1686.2,625.5 1686.5,627.7 1686.8,628.6 1687.1,629.8 1687.4,629.6 1687.8,630.9 1688.1,632.2 1688.4,632.4 1688.7,633.7 1689.0,632.8 1689.3,634.0 1689.6,633.3 1690.0,632.2 1690.3,632.3 1690.6,632.3 1690.9,632.2 1691.2,631.8 1691.5,632.1 1691.8,631.0 1692.2,629.7 1692.5,630.0 1692.8,629.2 1693.1,629.2 1693.4,627.1 1693.7,625.5 1694.0,623.4 1694.3,621.0 1694.6,618.9 1694.9,613.3 1695.1,607.6 1695.4,601.1 1695.7,599.6 1696.0,599.5 1696.2,599.0 1696.5,597.9 1696.8,596.7 1697.1,597.9 1697.4,600.9 1697.7,602.2 1698.0,603.1 1698.3,605.5 1698.6,605.3 1698.9,603.4 1699.2,603.0 1699.6,601.7 1699.9,601.6 1700.2,600.8 1700.5,599.6 1700.8,594.3 1701.0,589.7 1701.3,584.8 1701.6,589.1 1701.9,593.4 1702.2,596.5 1702.5,601.3 1702.8,605.5 1703.2,598.1 1703.5,592.2 1703.8,602.3 1704.2,612.9 1704.5,616.1 1704.8,620.6 1705.1,624.9 1705.4,628.3 1705.7,632.2 1706.0,630.5 1706.3,628.9 1706.6,628.9 1707.0,627.6 1707.3,625.6 1707.6,624.0 1707.9,623.3 1707.9,638.1 1708.2,638.8 1708.5,641.2 1708.8,641.7 1709.1,642.3 1709.4,644.0 1709.7,643.4 1710.0,641.5 1710.3,640.8 1710.6,639.7 1710.9,638.1 1711.2,641.2 1711.5,644.7 1711.8,649.5 1712.1,653.0 1712.4,655.9 1712.7,658.2 1713.0,659.9 1713.3,660.5 1713.6,663.6 1713.9,664.8 1714.2,667.4 1714.5,671.7 1714.7,674.0 1715.0,678.2 1715.3,681.0 1715.6,678.5 1715.9,675.5 1716.2,672.4 1716.4,669.4 1716.7,666.1 1717.0,663.6 1717.3,660.0 1717.6,657.4 1717.9,661.0 1718.2,664.1 1718.4,666.8 1718.7,670.8 1719.0,673.6 1719.3,668.0 1719.5,663.4 1719.8,657.4 1720.1,656.5 1720.4,656.5 1720.7,656.7 1721.1,657.2 1721.4,656.9 1721.7,656.7 1722.0,655.9 1722.3,666.3 1722.7,676.6 1723.0,672.5 1723.3,669.7 1723.6,665.9 1723.9,662.3 1724.2,658.8 1724.5,664.1 1724.7,668.9 1725.0,675.1 1725.3,675.6 1725.6,676.6 1725.9,676.4 1726.3,677.1 1726.6,678.2 1726.9,678.7 1727.2,679.6 1727.5,675.9 1727.8,671.5 1728.1,666.3 1728.4,662.3 1728.7,658.8 1729.0,665.2 1729.3,670.2 1729.5,676.8 1729.8,682.8 1730.1,688.4 1730.4,677.2 1730.6,664.6 1730.9,652.9 1731.2,654.4 1731.5,656.5 1731.8,658.4 1732.2,659.5 1732.5,661.1 1732.8,663.1 1733.1,664.8 1733.1,648.5 1733.4,645.7 1733.7,643.3 1734.0,639.3 1734.3,637.1 1734.6,633.7 1734.9,630.6 1735.2,628.5 1735.5,625.6 1735.8,621.1 1736.1,618.9 1736.4,617.9 1736.7,618.5 1737.0,617.4 1737.3,617.1 1737.5,617.0 1737.8,616.1 1738.1,615.7 1738.4,614.6 1738.7,615.0 1739.0,614.4 1739.3,617.2 1739.6,619.6 1739.9,623.7 1740.2,626.4 1740.5,629.2 1740.8,624.6 1741.1,621.2 1741.4,618.1 1741.7,614.6 1742.0,610.0 1742.3,614.3 1742.6,616.9 1742.9,622.3 1743.2,625.5 1743.5,629.2 1743.8,626.9 1744.1,625.2 1744.4,624.4 1744.7,622.2 1745.0,620.3 1745.3,623.6 1745.6,628.6 1745.8,631.6 1746.1,635.6 1746.4,639.6 1746.7,637.1 1747.0,635.1 1747.3,633.1 1747.6,630.5 1747.9,629.2 1748.2,630.9 1748.5,633.3 1748.8,634.1 1749.1,636.9 1749.4,638.1 1749.7,636.5 1750.0,636.0 1750.3,635.0 1750.6,632.7 1750.9,632.2 1751.2,630.7 1751.5,630.4 1751.8,628.7 1752.1,628.3 1752.4,627.7 1752.7,631.4 1753.0,634.7 1753.2,636.7 1753.5,640.7 1753.8,644.0 1754.1,642.9 1754.4,642.3 1754.7,640.7 1755.0,639.9 1755.3,639.6 1755.6,642.8 1755.9,645.0 1756.2,646.9 1756.5,650.5 1756.8,652.9 1757.1,653.6 1757.4,652.7 1757.7,653.5 1758.0,654.3 1758.3,655.1 1758.6,654.6 1758.9,655.0 1759.2,655.9 1759.5,655.9 1759.8,655.9 1760.2,663.9 1760.5,670.7 1760.8,672.9 1761.1,673.8 1761.4,675.0 1761.8,677.5 1762.1,679.9 1762.4,680.5 1762.7,682.5 1763.0,683.5 1763.3,683.9 1763.6,684.4 1763.9,684.8 1764.2,684.9 1764.5,684.5 1764.8,685.0 1765.1,686.2 1765.4,686.2 1765.7,687.0 1766.0,687.4 1766.3,687.8 1766.6,688.5 1766.9,688.7 1767.2,688.4 1767.2,657.4 1767.5,661.1 1767.8,665.1 1768.0,669.6 1768.3,672.6 1768.6,676.6 1768.9,678.2 1769.2,679.8 1769.5,682.0 1769.8,683.7 1770.1,685.5 1770.4,678.7 1770.7,672.8 1771.0,666.5 1771.3,659.0 1771.6,652.9 1771.9,659.2 1772.2,666.2 1772.5,672.5 1772.8,679.7 1773.1,685.5 1773.4,681.1 1773.7,677.0 1774.0,672.9 1774.3,669.3 1774.6,664.8 1774.9,662.8 1775.2,660.2 1775.4,658.1 1775.7,656.5 1776.0,654.4 1776.3,661.6 1776.5,666.8 1776.8,673.6 1777.1,678.7 1777.4,683.1 1777.7,687.0 1778.0,692.0 1778.3,695.9 1778.6,698.8 1778.9,700.7 1779.2,702.9 1779.5,706.0 1779.8,707.7 1780.1,705.8 1780.4,702.7 1780.6,700.5 1780.9,698.2 1781.2,695.9 1781.2,716.6 1781.5,714.2 1781.9,712.6 1782.2,710.5"/>
<rect x="86" y="47" width="1749" height="948" fill="none" stroke="#000" stroke-width="3.75"/>
<rect x="90.5" y="51.5" width="432" height="89.5" fill="#2e7e73"/>
<text x="305.9" y="85.9" font-size="30.6" fill="#fff" text-anchor="middle">SOUTH KOREA: WON/US$</text>
<text x="305.9" y="127.6" font-size="30.6" fill="#fff" text-anchor="middle">(inverted scale, daily)</text>
<rect x="92.2" y="145.9" width="401.7" height="35.7" fill="#fff" stroke="#000" stroke-width="2.8"/>
<line x1="99" y1="162.5" x2="154" y2="162.5" stroke="#0000ff" stroke-width="3.2"/>
<text x="162.4" y="169.9" font-size="23.8">Latest (Apr 02 = 1,519.90)</text>
<g font-size="23"><text x="67.9" y="53.4" text-anchor="end">400</text><text x="1852" y="53.4">400</text><text x="67.9" y="171.9" text-anchor="end">600</text><text x="1852" y="171.9">600</text><text x="67.9" y="290.4" text-anchor="end">800</text><text x="1852" y="290.4">800</text><text x="67.9" y="408.9" text-anchor="end">1000</text><text x="1852" y="408.9">1000</text><text x="67.9" y="527.4" text-anchor="end">1200</text><text x="1852" y="527.4">1200</text><text x="67.9" y="645.9" text-anchor="end">1400</text><text x="1852" y="645.9">1400</text><text x="67.9" y="764.4" text-anchor="end">1600</text><text x="1852" y="764.4">1600</text><text x="67.9" y="882.9" text-anchor="end">1800</text><text x="1852" y="882.9">1800</text><text x="67.9" y="1001.4" text-anchor="end">2000</text><text x="1852" y="1001.4">2000</text><text x="174.4" y="1029.1" text-anchor="middle">1996</text><text x="280.7" y="1029.1" text-anchor="middle">1998</text><text x="387.0" y="1029.1" text-anchor="middle">2000</text><text x="493.3" y="1029.1" text-anchor="middle">2002</text><text x="599.6" y="1029.1" text-anchor="middle">2004</text><text x="705.9" y="1029.1" text-anchor="middle">2006</text><text x="812.1" y="1029.1" text-anchor="middle">2008</text><text x="918.4" y="1029.1" text-anchor="middle">2010</text><text x="1024.7" y="1029.1" text-anchor="middle">2012</text><text x="1131.0" y="1029.1" text-anchor="middle">2014</text><text x="1237.3" y="1029.1" text-anchor="middle">2016</text><text x="1343.6" y="1029.1" text-anchor="middle">2018</text><text x="1449.9" y="1029.1" text-anchor="middle">2020</text><text x="1556.2" y="1029.1" text-anchor="middle">2022</text><text x="1662.5" y="1029.1" text-anchor="middle">2024</text><text x="1768.8" y="1029.1" text-anchor="middle">2026</text></g>
<text x="89" y="1068.8" font-size="24">Source: LSEG Datastream and © Yardeni Research. WMR.</text>
</svg>
</body></html>
